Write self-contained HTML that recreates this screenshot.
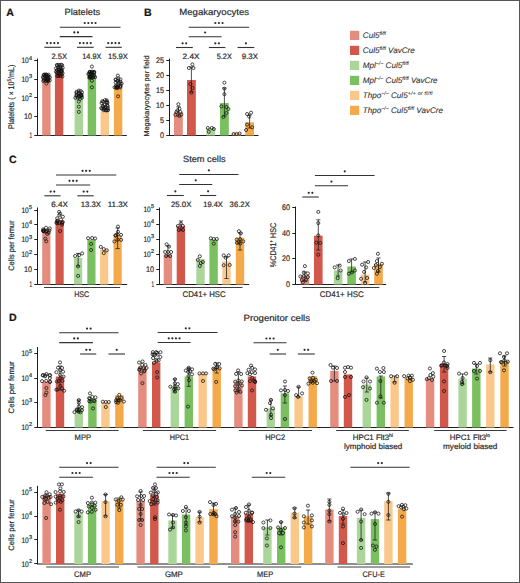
<!DOCTYPE html>
<html><head><meta charset="utf-8"><style>
html,body{margin:0;padding:0;background:#fff;}
svg{display:block;font-family:"Liberation Sans", sans-serif;}
text{stroke:#2b2b2b;stroke-width:0.2px;text-rendering:geometricPrecision;}
</style></head><body>
<svg width="520" height="583" viewBox="0 0 520 583">
<rect x="0" y="0" width="520" height="583" fill="#fff"/>
<text x="6.3" y="16.0" font-size="10.6" font-weight="bold" fill="#111">A</text>
<text x="64.5" y="15.2" font-size="9" textLength="35.7" lengthAdjust="spacingAndGlyphs" fill="#2b2b2b">Platelets</text>
<line x1="59.8" y1="27.2" x2="120.5" y2="27.2" stroke="#333" stroke-width="1.1"/>
<circle cx="84.75" cy="23.00" r="1.1" fill="#2a2a2a"/>
<circle cx="88.35" cy="23.00" r="1.1" fill="#2a2a2a"/>
<circle cx="91.95" cy="23.00" r="1.1" fill="#2a2a2a"/>
<circle cx="95.55" cy="23.00" r="1.1" fill="#2a2a2a"/>
<line x1="59.8" y1="36.6" x2="92.5" y2="36.6" stroke="#333" stroke-width="1.1"/>
<circle cx="74.35" cy="32.40" r="1.1" fill="#2a2a2a"/>
<circle cx="77.95" cy="32.40" r="1.1" fill="#2a2a2a"/>
<line x1="44.3" y1="47.3" x2="60.8" y2="47.3" stroke="#333" stroke-width="1.1"/>
<circle cx="47.15" cy="43.10" r="1.1" fill="#2a2a2a"/>
<circle cx="50.75" cy="43.10" r="1.1" fill="#2a2a2a"/>
<circle cx="54.35" cy="43.10" r="1.1" fill="#2a2a2a"/>
<circle cx="57.95" cy="43.10" r="1.1" fill="#2a2a2a"/>
<line x1="76.9" y1="47.3" x2="93.7" y2="47.3" stroke="#333" stroke-width="1.1"/>
<circle cx="79.90" cy="43.10" r="1.1" fill="#2a2a2a"/>
<circle cx="83.50" cy="43.10" r="1.1" fill="#2a2a2a"/>
<circle cx="87.10" cy="43.10" r="1.1" fill="#2a2a2a"/>
<circle cx="90.70" cy="43.10" r="1.1" fill="#2a2a2a"/>
<line x1="105.5" y1="47.3" x2="121.8" y2="47.3" stroke="#333" stroke-width="1.1"/>
<circle cx="108.25" cy="43.10" r="1.1" fill="#2a2a2a"/>
<circle cx="111.85" cy="43.10" r="1.1" fill="#2a2a2a"/>
<circle cx="115.45" cy="43.10" r="1.1" fill="#2a2a2a"/>
<circle cx="119.05" cy="43.10" r="1.1" fill="#2a2a2a"/>
<text x="51.5" y="59.2" font-size="7.8" textLength="15.6" lengthAdjust="spacingAndGlyphs" fill="#2b2b2b">2.5X</text>
<text x="82.3" y="59.2" font-size="7.8" textLength="19.1" lengthAdjust="spacingAndGlyphs" fill="#2b2b2b">14.9X</text>
<text x="107.9" y="59.2" font-size="7.8" textLength="20.1" lengthAdjust="spacingAndGlyphs" fill="#2b2b2b">15.9X</text>
<line x1="37.5" y1="58.5" x2="37.5" y2="135.4" stroke="#1e1e1e" stroke-width="1.0"/>
<line x1="34.3" y1="60.5" x2="37.5" y2="60.5" stroke="#1e1e1e" stroke-width="1.0"/>
<text x="32.10" y="59.60" font-size="5.6" text-anchor="end" fill="#2b2b2b">4</text>
<text x="28.70" y="63.30" font-size="8.0" text-anchor="end" fill="#2b2b2b" textLength="7.3" lengthAdjust="spacingAndGlyphs">10</text>
<line x1="34.3" y1="79.5" x2="37.5" y2="79.5" stroke="#1e1e1e" stroke-width="1.0"/>
<text x="32.10" y="78.20" font-size="5.6" text-anchor="end" fill="#2b2b2b">3</text>
<text x="28.70" y="81.90" font-size="8.0" text-anchor="end" fill="#2b2b2b" textLength="7.3" lengthAdjust="spacingAndGlyphs">10</text>
<line x1="34.3" y1="97.5" x2="37.5" y2="97.5" stroke="#1e1e1e" stroke-width="1.0"/>
<text x="32.10" y="96.80" font-size="5.6" text-anchor="end" fill="#2b2b2b">2</text>
<text x="28.70" y="100.50" font-size="8.0" text-anchor="end" fill="#2b2b2b" textLength="7.3" lengthAdjust="spacingAndGlyphs">10</text>
<line x1="34.3" y1="116.5" x2="37.5" y2="116.5" stroke="#1e1e1e" stroke-width="1.0"/>
<text x="32.10" y="119.30" font-size="8.1" text-anchor="end" fill="#2b2b2b" textLength="8.0" lengthAdjust="spacingAndGlyphs">10</text>
<line x1="34.3" y1="135.5" x2="37.5" y2="135.5" stroke="#1e1e1e" stroke-width="1.0"/>
<text x="32.10" y="137.90" font-size="8.1" text-anchor="end" fill="#2b2b2b" textLength="2.6" lengthAdjust="spacingAndGlyphs">1</text>
<line x1="37.0" y1="135.5" x2="126.8" y2="135.5" stroke="#1e1e1e" stroke-width="1.0"/>
<text x="0" y="0" font-size="8.2" text-anchor="middle" fill="#2b2b2b" textLength="64.4" lengthAdjust="spacingAndGlyphs" transform="translate(14.10,96.90) rotate(-90)">Platelets ( × 10<tspan font-size="5.4" dy="-3.2">5</tspan><tspan dy="3.2">/mL)</tspan></text>
<rect x="42.20" y="79.50" width="8.40" height="56.00" fill="#E48D7F"/>
<rect x="54.90" y="71.50" width="8.40" height="64.00" fill="#D2584C"/>
<rect x="74.60" y="95.00" width="8.40" height="40.50" fill="#AAD69A"/>
<rect x="87.70" y="73.80" width="8.40" height="61.70" fill="#7BC060"/>
<rect x="100.60" y="111.20" width="8.40" height="24.30" fill="#FAC88A"/>
<rect x="113.90" y="87.50" width="8.40" height="48.00" fill="#F4AA4B"/>
<circle cx="46.36" cy="74.51" r="1.55" fill="none" stroke="#111" stroke-width="0.75"/>
<circle cx="48.60" cy="74.68" r="1.55" fill="none" stroke="#111" stroke-width="0.75"/>
<circle cx="44.04" cy="74.70" r="1.55" fill="none" stroke="#111" stroke-width="0.75"/>
<circle cx="44.62" cy="74.70" r="1.55" fill="none" stroke="#111" stroke-width="0.75"/>
<circle cx="46.03" cy="74.71" r="1.55" fill="none" stroke="#111" stroke-width="0.75"/>
<circle cx="43.73" cy="75.16" r="1.55" fill="none" stroke="#111" stroke-width="0.75"/>
<circle cx="46.82" cy="75.44" r="1.55" fill="none" stroke="#111" stroke-width="0.75"/>
<circle cx="44.81" cy="76.02" r="1.55" fill="none" stroke="#111" stroke-width="0.75"/>
<circle cx="48.33" cy="76.05" r="1.55" fill="none" stroke="#111" stroke-width="0.75"/>
<circle cx="45.53" cy="76.10" r="1.55" fill="none" stroke="#111" stroke-width="0.75"/>
<circle cx="47.93" cy="76.29" r="1.55" fill="none" stroke="#111" stroke-width="0.75"/>
<circle cx="43.05" cy="77.17" r="1.55" fill="none" stroke="#111" stroke-width="0.75"/>
<circle cx="49.90" cy="77.45" r="1.55" fill="none" stroke="#111" stroke-width="0.75"/>
<circle cx="47.30" cy="77.53" r="1.55" fill="none" stroke="#111" stroke-width="0.75"/>
<circle cx="47.15" cy="77.62" r="1.55" fill="none" stroke="#111" stroke-width="0.75"/>
<circle cx="48.48" cy="77.65" r="1.55" fill="none" stroke="#111" stroke-width="0.75"/>
<circle cx="45.35" cy="77.97" r="1.55" fill="none" stroke="#111" stroke-width="0.75"/>
<circle cx="43.45" cy="78.29" r="1.55" fill="none" stroke="#111" stroke-width="0.75"/>
<circle cx="48.13" cy="79.06" r="1.55" fill="none" stroke="#111" stroke-width="0.75"/>
<circle cx="46.20" cy="79.55" r="1.55" fill="none" stroke="#111" stroke-width="0.75"/>
<circle cx="46.81" cy="79.84" r="1.55" fill="none" stroke="#111" stroke-width="0.75"/>
<circle cx="47.37" cy="79.85" r="1.55" fill="none" stroke="#111" stroke-width="0.75"/>
<circle cx="44.16" cy="80.02" r="1.55" fill="none" stroke="#111" stroke-width="0.75"/>
<circle cx="49.71" cy="80.35" r="1.55" fill="none" stroke="#111" stroke-width="0.75"/>
<circle cx="48.08" cy="80.43" r="1.55" fill="none" stroke="#111" stroke-width="0.75"/>
<circle cx="45.75" cy="80.81" r="1.55" fill="none" stroke="#111" stroke-width="0.75"/>
<circle cx="43.30" cy="81.07" r="1.55" fill="none" stroke="#111" stroke-width="0.75"/>
<circle cx="47.91" cy="81.12" r="1.55" fill="none" stroke="#111" stroke-width="0.75"/>
<circle cx="46.40" cy="83.50" r="1.55" fill="none" stroke="#111" stroke-width="0.75"/>
<circle cx="59.00" cy="64.79" r="1.55" fill="none" stroke="#111" stroke-width="0.75"/>
<circle cx="61.08" cy="64.83" r="1.55" fill="none" stroke="#111" stroke-width="0.75"/>
<circle cx="56.91" cy="64.93" r="1.55" fill="none" stroke="#111" stroke-width="0.75"/>
<circle cx="62.20" cy="65.18" r="1.55" fill="none" stroke="#111" stroke-width="0.75"/>
<circle cx="57.43" cy="65.52" r="1.55" fill="none" stroke="#111" stroke-width="0.75"/>
<circle cx="60.38" cy="66.40" r="1.55" fill="none" stroke="#111" stroke-width="0.75"/>
<circle cx="58.14" cy="67.33" r="1.55" fill="none" stroke="#111" stroke-width="0.75"/>
<circle cx="62.64" cy="67.72" r="1.55" fill="none" stroke="#111" stroke-width="0.75"/>
<circle cx="60.36" cy="68.20" r="1.55" fill="none" stroke="#111" stroke-width="0.75"/>
<circle cx="55.97" cy="68.32" r="1.55" fill="none" stroke="#111" stroke-width="0.75"/>
<circle cx="58.51" cy="69.06" r="1.55" fill="none" stroke="#111" stroke-width="0.75"/>
<circle cx="61.67" cy="69.22" r="1.55" fill="none" stroke="#111" stroke-width="0.75"/>
<circle cx="60.75" cy="69.67" r="1.55" fill="none" stroke="#111" stroke-width="0.75"/>
<circle cx="58.89" cy="69.84" r="1.55" fill="none" stroke="#111" stroke-width="0.75"/>
<circle cx="56.89" cy="70.08" r="1.55" fill="none" stroke="#111" stroke-width="0.75"/>
<circle cx="61.65" cy="70.81" r="1.55" fill="none" stroke="#111" stroke-width="0.75"/>
<circle cx="61.00" cy="71.03" r="1.55" fill="none" stroke="#111" stroke-width="0.75"/>
<circle cx="61.64" cy="71.23" r="1.55" fill="none" stroke="#111" stroke-width="0.75"/>
<circle cx="58.91" cy="71.47" r="1.55" fill="none" stroke="#111" stroke-width="0.75"/>
<circle cx="56.05" cy="71.77" r="1.55" fill="none" stroke="#111" stroke-width="0.75"/>
<circle cx="60.43" cy="71.78" r="1.55" fill="none" stroke="#111" stroke-width="0.75"/>
<circle cx="57.33" cy="72.54" r="1.55" fill="none" stroke="#111" stroke-width="0.75"/>
<circle cx="62.52" cy="73.18" r="1.55" fill="none" stroke="#111" stroke-width="0.75"/>
<circle cx="58.90" cy="73.33" r="1.55" fill="none" stroke="#111" stroke-width="0.75"/>
<circle cx="61.54" cy="74.53" r="1.55" fill="none" stroke="#111" stroke-width="0.75"/>
<circle cx="58.96" cy="75.20" r="1.55" fill="none" stroke="#111" stroke-width="0.75"/>
<circle cx="57.15" cy="75.87" r="1.55" fill="none" stroke="#111" stroke-width="0.75"/>
<circle cx="58.23" cy="75.89" r="1.55" fill="none" stroke="#111" stroke-width="0.75"/>
<circle cx="60.34" cy="75.97" r="1.55" fill="none" stroke="#111" stroke-width="0.75"/>
<circle cx="62.41" cy="76.44" r="1.55" fill="none" stroke="#111" stroke-width="0.75"/>
<circle cx="78.90" cy="90.61" r="1.55" fill="none" stroke="#111" stroke-width="0.75"/>
<circle cx="80.74" cy="91.06" r="1.55" fill="none" stroke="#111" stroke-width="0.75"/>
<circle cx="76.75" cy="91.78" r="1.55" fill="none" stroke="#111" stroke-width="0.75"/>
<circle cx="78.85" cy="92.49" r="1.55" fill="none" stroke="#111" stroke-width="0.75"/>
<circle cx="81.98" cy="92.52" r="1.55" fill="none" stroke="#111" stroke-width="0.75"/>
<circle cx="76.39" cy="92.70" r="1.55" fill="none" stroke="#111" stroke-width="0.75"/>
<circle cx="78.78" cy="93.64" r="1.55" fill="none" stroke="#111" stroke-width="0.75"/>
<circle cx="81.23" cy="94.50" r="1.55" fill="none" stroke="#111" stroke-width="0.75"/>
<circle cx="76.73" cy="94.55" r="1.55" fill="none" stroke="#111" stroke-width="0.75"/>
<circle cx="81.10" cy="94.95" r="1.55" fill="none" stroke="#111" stroke-width="0.75"/>
<circle cx="80.45" cy="95.13" r="1.55" fill="none" stroke="#111" stroke-width="0.75"/>
<circle cx="81.47" cy="95.63" r="1.55" fill="none" stroke="#111" stroke-width="0.75"/>
<circle cx="76.33" cy="95.82" r="1.55" fill="none" stroke="#111" stroke-width="0.75"/>
<circle cx="78.63" cy="95.90" r="1.55" fill="none" stroke="#111" stroke-width="0.75"/>
<circle cx="81.37" cy="95.93" r="1.55" fill="none" stroke="#111" stroke-width="0.75"/>
<circle cx="79.39" cy="96.80" r="1.55" fill="none" stroke="#111" stroke-width="0.75"/>
<circle cx="77.70" cy="97.61" r="1.55" fill="none" stroke="#111" stroke-width="0.75"/>
<circle cx="82.03" cy="97.62" r="1.55" fill="none" stroke="#111" stroke-width="0.75"/>
<circle cx="75.41" cy="97.88" r="1.55" fill="none" stroke="#111" stroke-width="0.75"/>
<circle cx="79.95" cy="98.96" r="1.55" fill="none" stroke="#111" stroke-width="0.75"/>
<circle cx="78.80" cy="101.50" r="1.55" fill="none" stroke="#111" stroke-width="0.75"/>
<circle cx="78.80" cy="106.70" r="1.55" fill="none" stroke="#111" stroke-width="0.75"/>
<circle cx="78.80" cy="111.90" r="1.55" fill="none" stroke="#111" stroke-width="0.75"/>
<circle cx="91.90" cy="66.60" r="1.55" fill="none" stroke="#111" stroke-width="0.75"/>
<circle cx="91.96" cy="71.67" r="1.55" fill="none" stroke="#111" stroke-width="0.75"/>
<circle cx="94.20" cy="71.81" r="1.55" fill="none" stroke="#111" stroke-width="0.75"/>
<circle cx="89.70" cy="71.92" r="1.55" fill="none" stroke="#111" stroke-width="0.75"/>
<circle cx="89.95" cy="71.94" r="1.55" fill="none" stroke="#111" stroke-width="0.75"/>
<circle cx="89.70" cy="72.28" r="1.55" fill="none" stroke="#111" stroke-width="0.75"/>
<circle cx="94.12" cy="72.41" r="1.55" fill="none" stroke="#111" stroke-width="0.75"/>
<circle cx="90.95" cy="72.55" r="1.55" fill="none" stroke="#111" stroke-width="0.75"/>
<circle cx="92.56" cy="72.70" r="1.55" fill="none" stroke="#111" stroke-width="0.75"/>
<circle cx="93.99" cy="72.75" r="1.55" fill="none" stroke="#111" stroke-width="0.75"/>
<circle cx="91.44" cy="72.85" r="1.55" fill="none" stroke="#111" stroke-width="0.75"/>
<circle cx="91.28" cy="73.14" r="1.55" fill="none" stroke="#111" stroke-width="0.75"/>
<circle cx="90.92" cy="73.37" r="1.55" fill="none" stroke="#111" stroke-width="0.75"/>
<circle cx="88.33" cy="73.97" r="1.55" fill="none" stroke="#111" stroke-width="0.75"/>
<circle cx="89.25" cy="74.01" r="1.55" fill="none" stroke="#111" stroke-width="0.75"/>
<circle cx="91.77" cy="74.96" r="1.55" fill="none" stroke="#111" stroke-width="0.75"/>
<circle cx="94.12" cy="75.59" r="1.55" fill="none" stroke="#111" stroke-width="0.75"/>
<circle cx="89.68" cy="76.32" r="1.55" fill="none" stroke="#111" stroke-width="0.75"/>
<circle cx="91.26" cy="76.56" r="1.55" fill="none" stroke="#111" stroke-width="0.75"/>
<circle cx="90.02" cy="76.80" r="1.55" fill="none" stroke="#111" stroke-width="0.75"/>
<circle cx="90.20" cy="76.80" r="1.55" fill="none" stroke="#111" stroke-width="0.75"/>
<circle cx="90.47" cy="76.85" r="1.55" fill="none" stroke="#111" stroke-width="0.75"/>
<circle cx="93.15" cy="77.00" r="1.55" fill="none" stroke="#111" stroke-width="0.75"/>
<circle cx="95.09" cy="77.18" r="1.55" fill="none" stroke="#111" stroke-width="0.75"/>
<circle cx="92.49" cy="77.36" r="1.55" fill="none" stroke="#111" stroke-width="0.75"/>
<circle cx="89.24" cy="77.63" r="1.55" fill="none" stroke="#111" stroke-width="0.75"/>
<circle cx="90.43" cy="77.69" r="1.55" fill="none" stroke="#111" stroke-width="0.75"/>
<circle cx="91.90" cy="80.80" r="1.55" fill="none" stroke="#111" stroke-width="0.75"/>
<circle cx="91.90" cy="87.30" r="1.55" fill="none" stroke="#111" stroke-width="0.75"/>
<circle cx="104.87" cy="100.14" r="1.55" fill="none" stroke="#111" stroke-width="0.75"/>
<circle cx="106.78" cy="100.32" r="1.55" fill="none" stroke="#111" stroke-width="0.75"/>
<circle cx="102.30" cy="101.25" r="1.55" fill="none" stroke="#111" stroke-width="0.75"/>
<circle cx="106.71" cy="101.53" r="1.55" fill="none" stroke="#111" stroke-width="0.75"/>
<circle cx="103.50" cy="101.76" r="1.55" fill="none" stroke="#111" stroke-width="0.75"/>
<circle cx="106.76" cy="102.38" r="1.55" fill="none" stroke="#111" stroke-width="0.75"/>
<circle cx="107.41" cy="102.71" r="1.55" fill="none" stroke="#111" stroke-width="0.75"/>
<circle cx="101.61" cy="103.07" r="1.55" fill="none" stroke="#111" stroke-width="0.75"/>
<circle cx="104.62" cy="105.12" r="1.55" fill="none" stroke="#111" stroke-width="0.75"/>
<circle cx="107.26" cy="105.16" r="1.55" fill="none" stroke="#111" stroke-width="0.75"/>
<circle cx="102.71" cy="105.98" r="1.55" fill="none" stroke="#111" stroke-width="0.75"/>
<circle cx="107.65" cy="106.31" r="1.55" fill="none" stroke="#111" stroke-width="0.75"/>
<circle cx="103.59" cy="106.85" r="1.55" fill="none" stroke="#111" stroke-width="0.75"/>
<circle cx="105.70" cy="107.14" r="1.55" fill="none" stroke="#111" stroke-width="0.75"/>
<circle cx="101.29" cy="108.14" r="1.55" fill="none" stroke="#111" stroke-width="0.75"/>
<circle cx="107.84" cy="108.16" r="1.55" fill="none" stroke="#111" stroke-width="0.75"/>
<circle cx="103.75" cy="108.42" r="1.55" fill="none" stroke="#111" stroke-width="0.75"/>
<circle cx="102.13" cy="108.75" r="1.55" fill="none" stroke="#111" stroke-width="0.75"/>
<circle cx="103.78" cy="108.77" r="1.55" fill="none" stroke="#111" stroke-width="0.75"/>
<circle cx="106.09" cy="109.91" r="1.55" fill="none" stroke="#111" stroke-width="0.75"/>
<circle cx="108.09" cy="110.08" r="1.55" fill="none" stroke="#111" stroke-width="0.75"/>
<circle cx="103.76" cy="110.15" r="1.55" fill="none" stroke="#111" stroke-width="0.75"/>
<circle cx="105.68" cy="110.37" r="1.55" fill="none" stroke="#111" stroke-width="0.75"/>
<circle cx="107.17" cy="110.38" r="1.55" fill="none" stroke="#111" stroke-width="0.75"/>
<circle cx="117.86" cy="75.61" r="1.55" fill="none" stroke="#111" stroke-width="0.75"/>
<circle cx="118.28" cy="78.44" r="1.55" fill="none" stroke="#111" stroke-width="0.75"/>
<circle cx="120.48" cy="79.45" r="1.55" fill="none" stroke="#111" stroke-width="0.75"/>
<circle cx="115.87" cy="79.50" r="1.55" fill="none" stroke="#111" stroke-width="0.75"/>
<circle cx="115.64" cy="79.61" r="1.55" fill="none" stroke="#111" stroke-width="0.75"/>
<circle cx="118.18" cy="80.53" r="1.55" fill="none" stroke="#111" stroke-width="0.75"/>
<circle cx="117.20" cy="81.09" r="1.55" fill="none" stroke="#111" stroke-width="0.75"/>
<circle cx="120.35" cy="81.69" r="1.55" fill="none" stroke="#111" stroke-width="0.75"/>
<circle cx="115.72" cy="82.51" r="1.55" fill="none" stroke="#111" stroke-width="0.75"/>
<circle cx="118.89" cy="82.73" r="1.55" fill="none" stroke="#111" stroke-width="0.75"/>
<circle cx="121.66" cy="83.51" r="1.55" fill="none" stroke="#111" stroke-width="0.75"/>
<circle cx="120.40" cy="83.74" r="1.55" fill="none" stroke="#111" stroke-width="0.75"/>
<circle cx="118.19" cy="85.34" r="1.55" fill="none" stroke="#111" stroke-width="0.75"/>
<circle cx="116.02" cy="85.63" r="1.55" fill="none" stroke="#111" stroke-width="0.75"/>
<circle cx="120.48" cy="85.68" r="1.55" fill="none" stroke="#111" stroke-width="0.75"/>
<circle cx="120.48" cy="86.33" r="1.55" fill="none" stroke="#111" stroke-width="0.75"/>
<circle cx="117.38" cy="86.77" r="1.55" fill="none" stroke="#111" stroke-width="0.75"/>
<circle cx="117.06" cy="86.92" r="1.55" fill="none" stroke="#111" stroke-width="0.75"/>
<circle cx="114.55" cy="87.26" r="1.55" fill="none" stroke="#111" stroke-width="0.75"/>
<circle cx="120.24" cy="87.39" r="1.55" fill="none" stroke="#111" stroke-width="0.75"/>
<circle cx="116.05" cy="87.41" r="1.55" fill="none" stroke="#111" stroke-width="0.75"/>
<circle cx="116.87" cy="87.44" r="1.55" fill="none" stroke="#111" stroke-width="0.75"/>
<circle cx="117.79" cy="87.68" r="1.55" fill="none" stroke="#111" stroke-width="0.75"/>
<circle cx="116.69" cy="88.01" r="1.55" fill="none" stroke="#111" stroke-width="0.75"/>
<circle cx="118.10" cy="96.30" r="1.55" fill="none" stroke="#111" stroke-width="0.75"/>
<text x="144.0" y="15.6" font-size="10.6" font-weight="bold" fill="#111">B</text>
<text x="179.3" y="15.2" font-size="9" textLength="69.7" lengthAdjust="spacingAndGlyphs" fill="#2b2b2b">Megakaryocytes</text>
<line x1="188.7" y1="27.2" x2="249.2" y2="27.2" stroke="#333" stroke-width="1.1"/>
<circle cx="215.35" cy="23.00" r="1.1" fill="#2a2a2a"/>
<circle cx="218.95" cy="23.00" r="1.1" fill="#2a2a2a"/>
<circle cx="222.55" cy="23.00" r="1.1" fill="#2a2a2a"/>
<line x1="188.7" y1="36.7" x2="221.6" y2="36.7" stroke="#333" stroke-width="1.1"/>
<circle cx="205.15" cy="32.50" r="1.1" fill="#2a2a2a"/>
<line x1="176.0" y1="47.5" x2="192.8" y2="47.5" stroke="#333" stroke-width="1.1"/>
<circle cx="182.60" cy="43.30" r="1.1" fill="#2a2a2a"/>
<circle cx="186.20" cy="43.30" r="1.1" fill="#2a2a2a"/>
<line x1="208.9" y1="47.5" x2="225.4" y2="47.5" stroke="#333" stroke-width="1.1"/>
<circle cx="215.35" cy="43.30" r="1.1" fill="#2a2a2a"/>
<circle cx="218.95" cy="43.30" r="1.1" fill="#2a2a2a"/>
<line x1="237.5" y1="47.5" x2="254.3" y2="47.5" stroke="#333" stroke-width="1.1"/>
<circle cx="245.90" cy="43.30" r="1.1" fill="#2a2a2a"/>
<text x="182.5" y="59.2" font-size="7.8" textLength="17.0" lengthAdjust="spacingAndGlyphs" fill="#2b2b2b">2.4X</text>
<text x="216.7" y="59.2" font-size="7.8" textLength="15.1" lengthAdjust="spacingAndGlyphs" fill="#2b2b2b">5.2X</text>
<text x="241.7" y="59.2" font-size="7.8" textLength="16.2" lengthAdjust="spacingAndGlyphs" fill="#2b2b2b">9.3X</text>
<line x1="169.5" y1="58.5" x2="169.5" y2="135.5" stroke="#1e1e1e" stroke-width="1.0"/>
<line x1="166.3" y1="60.5" x2="169.5" y2="60.5" stroke="#1e1e1e" stroke-width="1.0"/>
<text x="164.10" y="63.20" font-size="8.1" text-anchor="end" fill="#2b2b2b" textLength="8.0" lengthAdjust="spacingAndGlyphs">25</text>
<line x1="166.3" y1="75.5" x2="169.5" y2="75.5" stroke="#1e1e1e" stroke-width="1.0"/>
<text x="164.10" y="78.20" font-size="8.1" text-anchor="end" fill="#2b2b2b" textLength="8.0" lengthAdjust="spacingAndGlyphs">20</text>
<line x1="166.3" y1="90.5" x2="169.5" y2="90.5" stroke="#1e1e1e" stroke-width="1.0"/>
<text x="164.10" y="93.20" font-size="8.1" text-anchor="end" fill="#2b2b2b" textLength="8.0" lengthAdjust="spacingAndGlyphs">15</text>
<line x1="166.3" y1="105.5" x2="169.5" y2="105.5" stroke="#1e1e1e" stroke-width="1.0"/>
<text x="164.10" y="108.20" font-size="8.1" text-anchor="end" fill="#2b2b2b" textLength="8.0" lengthAdjust="spacingAndGlyphs">10</text>
<line x1="166.3" y1="120.5" x2="169.5" y2="120.5" stroke="#1e1e1e" stroke-width="1.0"/>
<text x="164.10" y="123.20" font-size="8.1" text-anchor="end" fill="#2b2b2b" textLength="4.0" lengthAdjust="spacingAndGlyphs">5</text>
<line x1="166.3" y1="135.5" x2="169.5" y2="135.5" stroke="#1e1e1e" stroke-width="1.0"/>
<text x="164.10" y="138.20" font-size="8.1" text-anchor="end" fill="#2b2b2b" textLength="4.0" lengthAdjust="spacingAndGlyphs">0</text>
<line x1="169.0" y1="135.5" x2="258.5" y2="135.5" stroke="#1e1e1e" stroke-width="1.0"/>
<text x="0" y="0" font-size="7.2" text-anchor="middle" fill="#2b2b2b" textLength="81" lengthAdjust="spacingAndGlyphs" transform="translate(148.60,96.00) rotate(-90)">Megakaryocytes per field</text>
<rect x="174.00" y="112.20" width="8.80" height="23.30" fill="#E48D7F"/>
<rect x="187.00" y="80.00" width="8.80" height="55.50" fill="#D2584C"/>
<rect x="206.40" y="128.00" width="8.80" height="7.50" fill="#AAD69A"/>
<rect x="220.00" y="103.00" width="8.80" height="32.50" fill="#7BC060"/>
<rect x="232.20" y="133.00" width="8.80" height="2.50" fill="#FAC88A"/>
<rect x="245.20" y="122.30" width="8.80" height="13.20" fill="#F4AA4B"/>
<line x1="178.4" y1="106.8" x2="178.4" y2="116" stroke="#222" stroke-width="0.8"/>
<line x1="176.3" y1="106.8" x2="180.5" y2="106.8" stroke="#222" stroke-width="0.8"/>
<line x1="176.3" y1="116" x2="180.5" y2="116" stroke="#222" stroke-width="0.8"/>
<circle cx="178.40" cy="104.20" r="1.55" fill="none" stroke="#111" stroke-width="0.75"/>
<circle cx="179.40" cy="108.70" r="1.55" fill="none" stroke="#111" stroke-width="0.75"/>
<circle cx="177.40" cy="110.40" r="1.55" fill="none" stroke="#111" stroke-width="0.75"/>
<circle cx="175.40" cy="114.80" r="1.55" fill="none" stroke="#111" stroke-width="0.75"/>
<circle cx="181.40" cy="114.50" r="1.55" fill="none" stroke="#111" stroke-width="0.75"/>
<circle cx="179.40" cy="116.00" r="1.55" fill="none" stroke="#111" stroke-width="0.75"/>
<circle cx="176.40" cy="112.00" r="1.55" fill="none" stroke="#111" stroke-width="0.75"/>
<circle cx="180.40" cy="112.00" r="1.55" fill="none" stroke="#111" stroke-width="0.75"/>
<line x1="191.4" y1="67" x2="191.4" y2="92" stroke="#222" stroke-width="0.8"/>
<line x1="189.3" y1="67" x2="193.5" y2="67" stroke="#222" stroke-width="0.8"/>
<line x1="189.3" y1="92" x2="193.5" y2="92" stroke="#222" stroke-width="0.8"/>
<circle cx="188.90" cy="68.00" r="1.55" fill="none" stroke="#111" stroke-width="0.75"/>
<circle cx="192.40" cy="64.40" r="1.55" fill="none" stroke="#111" stroke-width="0.75"/>
<circle cx="193.40" cy="68.00" r="1.55" fill="none" stroke="#111" stroke-width="0.75"/>
<circle cx="190.40" cy="84.00" r="1.55" fill="none" stroke="#111" stroke-width="0.75"/>
<circle cx="192.40" cy="88.00" r="1.55" fill="none" stroke="#111" stroke-width="0.75"/>
<circle cx="191.40" cy="92.50" r="1.55" fill="none" stroke="#111" stroke-width="0.75"/>
<circle cx="207.80" cy="128.00" r="1.55" fill="none" stroke="#111" stroke-width="0.75"/>
<circle cx="211.80" cy="128.00" r="1.55" fill="none" stroke="#111" stroke-width="0.75"/>
<circle cx="213.80" cy="129.00" r="1.55" fill="none" stroke="#111" stroke-width="0.75"/>
<circle cx="208.80" cy="131.70" r="1.55" fill="none" stroke="#111" stroke-width="0.75"/>
<line x1="224.4" y1="88" x2="224.4" y2="116" stroke="#222" stroke-width="0.8"/>
<line x1="222.3" y1="88" x2="226.5" y2="88" stroke="#222" stroke-width="0.8"/>
<line x1="222.3" y1="116" x2="226.5" y2="116" stroke="#222" stroke-width="0.8"/>
<circle cx="224.40" cy="82.70" r="1.55" fill="none" stroke="#111" stroke-width="0.75"/>
<circle cx="224.40" cy="88.70" r="1.55" fill="none" stroke="#111" stroke-width="0.75"/>
<circle cx="224.40" cy="94.20" r="1.55" fill="none" stroke="#111" stroke-width="0.75"/>
<circle cx="221.40" cy="106.40" r="1.55" fill="none" stroke="#111" stroke-width="0.75"/>
<circle cx="226.40" cy="107.00" r="1.55" fill="none" stroke="#111" stroke-width="0.75"/>
<circle cx="228.40" cy="109.00" r="1.55" fill="none" stroke="#111" stroke-width="0.75"/>
<circle cx="226.40" cy="113.00" r="1.55" fill="none" stroke="#111" stroke-width="0.75"/>
<circle cx="223.40" cy="117.00" r="1.55" fill="none" stroke="#111" stroke-width="0.75"/>
<circle cx="233.60" cy="134.00" r="1.55" fill="none" stroke="#111" stroke-width="0.75"/>
<circle cx="236.60" cy="134.00" r="1.55" fill="none" stroke="#111" stroke-width="0.75"/>
<circle cx="239.60" cy="133.50" r="1.55" fill="none" stroke="#111" stroke-width="0.75"/>
<line x1="249.6" y1="115" x2="249.6" y2="128" stroke="#222" stroke-width="0.8"/>
<line x1="247.5" y1="115" x2="251.7" y2="115" stroke="#222" stroke-width="0.8"/>
<line x1="247.5" y1="128" x2="251.7" y2="128" stroke="#222" stroke-width="0.8"/>
<circle cx="247.10" cy="114.00" r="1.55" fill="none" stroke="#111" stroke-width="0.75"/>
<circle cx="251.10" cy="112.70" r="1.55" fill="none" stroke="#111" stroke-width="0.75"/>
<circle cx="249.10" cy="116.60" r="1.55" fill="none" stroke="#111" stroke-width="0.75"/>
<circle cx="247.10" cy="124.60" r="1.55" fill="none" stroke="#111" stroke-width="0.75"/>
<circle cx="252.10" cy="127.30" r="1.55" fill="none" stroke="#111" stroke-width="0.75"/>
<circle cx="246.10" cy="130.00" r="1.55" fill="none" stroke="#111" stroke-width="0.75"/>
<rect x="350.00" y="30.80" width="9.20" height="9.20" fill="#E48D7F"/>
<text x="362.8" y="38.4" font-size="8.1" font-style="italic" fill="#333" style="stroke-width:0.1px">Cul5<tspan font-size="5.0" dy="-3.3">fl/fl</tspan><tspan dy="3.3"></tspan></text>
<rect x="350.00" y="45.80" width="9.20" height="9.20" fill="#D2584C"/>
<text x="362.8" y="53.4" font-size="8.1" font-style="italic" fill="#333" style="stroke-width:0.1px">Cul5<tspan font-size="5.0" dy="-3.3">fl/fl</tspan><tspan dy="3.3"> VavCre</tspan></text>
<rect x="350.00" y="60.80" width="9.20" height="9.20" fill="#AAD69A"/>
<text x="362.8" y="68.4" font-size="8.1" font-style="italic" fill="#333" style="stroke-width:0.1px">Mpl<tspan font-size="5.2" dy="-3">−/−</tspan><tspan dy="3"> Cul5</tspan><tspan font-size="5.0" dy="-3.3">fl/fl</tspan><tspan dy="3.3"></tspan></text>
<rect x="350.00" y="75.80" width="9.20" height="9.20" fill="#7BC060"/>
<text x="362.8" y="83.4" font-size="8.1" font-style="italic" fill="#333" style="stroke-width:0.1px">Mpl<tspan font-size="5.2" dy="-3">−/−</tspan><tspan dy="3"> Cul5</tspan><tspan font-size="5.0" dy="-3.3">fl/fl</tspan><tspan dy="3.3"> VavCre</tspan></text>
<rect x="350.00" y="90.80" width="9.20" height="9.20" fill="#FAC88A"/>
<text x="362.8" y="98.4" font-size="8.1" font-style="italic" fill="#333" style="stroke-width:0.1px">Thpo<tspan font-size="5.2" dy="-3">−/−</tspan><tspan dy="3"> Cul5</tspan><tspan font-size="5.0" dy="-3.3" letter-spacing="0.35">+/+ or fl/fl</tspan><tspan dy="3.3"></tspan></text>
<rect x="350.00" y="105.80" width="9.20" height="9.20" fill="#F4AA4B"/>
<text x="362.8" y="113.4" font-size="8.1" font-style="italic" fill="#333" style="stroke-width:0.1px">Thpo<tspan font-size="5.2" dy="-3">−/−</tspan><tspan dy="3"> Cul5</tspan><tspan font-size="5.0" dy="-3.3">fl/fl</tspan><tspan dy="3.3"> VavCre</tspan></text>
<text x="9.0" y="163.3" font-size="10.6" font-weight="bold" fill="#111">C</text>
<text x="183.0" y="162.1" font-size="9" textLength="42.6" lengthAdjust="spacingAndGlyphs" fill="#2b2b2b">Stem cells</text>
<line x1="56.0" y1="175.0" x2="116.3" y2="175.0" stroke="#333" stroke-width="1.1"/>
<circle cx="82.55" cy="170.80" r="1.1" fill="#2a2a2a"/>
<circle cx="86.15" cy="170.80" r="1.1" fill="#2a2a2a"/>
<circle cx="89.75" cy="170.80" r="1.1" fill="#2a2a2a"/>
<line x1="56.0" y1="185.0" x2="90.2" y2="185.0" stroke="#333" stroke-width="1.1"/>
<circle cx="69.50" cy="180.80" r="1.1" fill="#2a2a2a"/>
<circle cx="73.10" cy="180.80" r="1.1" fill="#2a2a2a"/>
<circle cx="76.70" cy="180.80" r="1.1" fill="#2a2a2a"/>
<line x1="44.4" y1="195.8" x2="60.6" y2="195.8" stroke="#333" stroke-width="1.1"/>
<circle cx="50.70" cy="191.60" r="1.1" fill="#2a2a2a"/>
<circle cx="54.30" cy="191.60" r="1.1" fill="#2a2a2a"/>
<line x1="77.3" y1="195.8" x2="93.7" y2="195.8" stroke="#333" stroke-width="1.1"/>
<circle cx="83.70" cy="191.60" r="1.1" fill="#2a2a2a"/>
<circle cx="87.30" cy="191.60" r="1.1" fill="#2a2a2a"/>
<text x="51.2" y="206.9" font-size="7.8" textLength="16.7" lengthAdjust="spacingAndGlyphs" fill="#2b2b2b">6.4X</text>
<text x="80.8" y="206.9" font-size="7.8" textLength="20.2" lengthAdjust="spacingAndGlyphs" fill="#2b2b2b">13.3X</text>
<text x="107.7" y="206.9" font-size="7.8" textLength="20.2" lengthAdjust="spacingAndGlyphs" fill="#2b2b2b">11.3X</text>
<line x1="37.5" y1="207.5" x2="37.5" y2="284.8" stroke="#1e1e1e" stroke-width="1.0"/>
<line x1="34.3" y1="210.5" x2="37.5" y2="210.5" stroke="#1e1e1e" stroke-width="1.0"/>
<text x="32.10" y="209.10" font-size="5.6" text-anchor="end" fill="#2b2b2b">5</text>
<text x="28.70" y="212.80" font-size="8.0" text-anchor="end" fill="#2b2b2b" textLength="7.3" lengthAdjust="spacingAndGlyphs">10</text>
<line x1="34.3" y1="224.5" x2="37.5" y2="224.5" stroke="#1e1e1e" stroke-width="1.0"/>
<text x="32.10" y="223.92" font-size="5.6" text-anchor="end" fill="#2b2b2b">4</text>
<text x="28.70" y="227.62" font-size="8.0" text-anchor="end" fill="#2b2b2b" textLength="7.3" lengthAdjust="spacingAndGlyphs">10</text>
<line x1="34.3" y1="239.5" x2="37.5" y2="239.5" stroke="#1e1e1e" stroke-width="1.0"/>
<text x="32.10" y="238.74" font-size="5.6" text-anchor="end" fill="#2b2b2b">3</text>
<text x="28.70" y="242.44" font-size="8.0" text-anchor="end" fill="#2b2b2b" textLength="7.3" lengthAdjust="spacingAndGlyphs">10</text>
<line x1="34.3" y1="254.5" x2="37.5" y2="254.5" stroke="#1e1e1e" stroke-width="1.0"/>
<text x="32.10" y="253.56" font-size="5.6" text-anchor="end" fill="#2b2b2b">2</text>
<text x="28.70" y="257.26" font-size="8.0" text-anchor="end" fill="#2b2b2b" textLength="7.3" lengthAdjust="spacingAndGlyphs">10</text>
<line x1="34.3" y1="269.5" x2="37.5" y2="269.5" stroke="#1e1e1e" stroke-width="1.0"/>
<text x="32.10" y="272.28" font-size="8.1" text-anchor="end" fill="#2b2b2b" textLength="8.0" lengthAdjust="spacingAndGlyphs">10</text>
<line x1="34.3" y1="284.5" x2="37.5" y2="284.5" stroke="#1e1e1e" stroke-width="1.0"/>
<text x="32.10" y="287.10" font-size="8.1" text-anchor="end" fill="#2b2b2b" textLength="2.6" lengthAdjust="spacingAndGlyphs">1</text>
<line x1="37.0" y1="284.5" x2="127.2" y2="284.5" stroke="#1e1e1e" stroke-width="1.0"/>
<line x1="44.0" y1="287.5" x2="120.1" y2="287.5" stroke="#3c3c3c" stroke-width="1.0"/>
<text x="74.2" y="297.4" font-size="8.2" textLength="15" lengthAdjust="spacingAndGlyphs" fill="#2b2b2b">HSC</text>
<text x="0" y="0" font-size="7.9" text-anchor="middle" fill="#2b2b2b" textLength="50.2" lengthAdjust="spacingAndGlyphs" transform="translate(14.40,245.70) rotate(-90)">Cells per femur</text>
<rect x="42.20" y="229.60" width="8.20" height="54.90" fill="#E48D7F"/>
<rect x="55.50" y="220.20" width="8.20" height="64.30" fill="#D2584C"/>
<rect x="74.00" y="257.90" width="8.20" height="26.60" fill="#AAD69A"/>
<rect x="87.30" y="239.60" width="8.20" height="44.90" fill="#7BC060"/>
<rect x="100.10" y="249.60" width="8.20" height="34.90" fill="#FAC88A"/>
<rect x="113.50" y="235.30" width="8.20" height="49.20" fill="#F4AA4B"/>
<circle cx="46.05" cy="227.79" r="1.55" fill="none" stroke="#111" stroke-width="0.75"/>
<circle cx="49.79" cy="228.45" r="1.55" fill="none" stroke="#111" stroke-width="0.75"/>
<circle cx="43.12" cy="229.31" r="1.55" fill="none" stroke="#111" stroke-width="0.75"/>
<circle cx="43.66" cy="230.40" r="1.55" fill="none" stroke="#111" stroke-width="0.75"/>
<circle cx="49.37" cy="230.50" r="1.55" fill="none" stroke="#111" stroke-width="0.75"/>
<circle cx="46.83" cy="230.81" r="1.55" fill="none" stroke="#111" stroke-width="0.75"/>
<circle cx="43.21" cy="230.84" r="1.55" fill="none" stroke="#111" stroke-width="0.75"/>
<circle cx="43.30" cy="231.19" r="1.55" fill="none" stroke="#111" stroke-width="0.75"/>
<circle cx="44.37" cy="231.39" r="1.55" fill="none" stroke="#111" stroke-width="0.75"/>
<circle cx="46.03" cy="231.70" r="1.55" fill="none" stroke="#111" stroke-width="0.75"/>
<circle cx="48.50" cy="232.89" r="1.55" fill="none" stroke="#111" stroke-width="0.75"/>
<circle cx="47.20" cy="233.85" r="1.55" fill="none" stroke="#111" stroke-width="0.75"/>
<circle cx="45.30" cy="238.70" r="1.55" fill="none" stroke="#111" stroke-width="0.75"/>
<circle cx="46.30" cy="241.30" r="1.55" fill="none" stroke="#111" stroke-width="0.75"/>
<circle cx="59.10" cy="211.90" r="1.55" fill="none" stroke="#111" stroke-width="0.75"/>
<circle cx="60.10" cy="213.70" r="1.55" fill="none" stroke="#111" stroke-width="0.75"/>
<circle cx="59.39" cy="215.13" r="1.55" fill="none" stroke="#111" stroke-width="0.75"/>
<circle cx="62.86" cy="216.71" r="1.55" fill="none" stroke="#111" stroke-width="0.75"/>
<circle cx="57.20" cy="218.29" r="1.55" fill="none" stroke="#111" stroke-width="0.75"/>
<circle cx="60.94" cy="219.50" r="1.55" fill="none" stroke="#111" stroke-width="0.75"/>
<circle cx="57.14" cy="220.69" r="1.55" fill="none" stroke="#111" stroke-width="0.75"/>
<circle cx="57.16" cy="221.70" r="1.55" fill="none" stroke="#111" stroke-width="0.75"/>
<circle cx="62.80" cy="222.22" r="1.55" fill="none" stroke="#111" stroke-width="0.75"/>
<circle cx="59.23" cy="222.89" r="1.55" fill="none" stroke="#111" stroke-width="0.75"/>
<circle cx="56.45" cy="222.94" r="1.55" fill="none" stroke="#111" stroke-width="0.75"/>
<circle cx="62.10" cy="223.00" r="1.55" fill="none" stroke="#111" stroke-width="0.75"/>
<circle cx="57.44" cy="223.29" r="1.55" fill="none" stroke="#111" stroke-width="0.75"/>
<circle cx="62.05" cy="224.72" r="1.55" fill="none" stroke="#111" stroke-width="0.75"/>
<circle cx="60.10" cy="231.00" r="1.55" fill="none" stroke="#111" stroke-width="0.75"/>
<line x1="78.1" y1="253.4" x2="78.1" y2="266" stroke="#222" stroke-width="0.8"/>
<line x1="76.0" y1="253.4" x2="80.19999999999999" y2="253.4" stroke="#222" stroke-width="0.8"/>
<line x1="76.0" y1="266" x2="80.19999999999999" y2="266" stroke="#222" stroke-width="0.8"/>
<circle cx="75.10" cy="256.00" r="1.55" fill="none" stroke="#111" stroke-width="0.75"/>
<circle cx="79.10" cy="255.20" r="1.55" fill="none" stroke="#111" stroke-width="0.75"/>
<circle cx="82.10" cy="253.40" r="1.55" fill="none" stroke="#111" stroke-width="0.75"/>
<circle cx="78.10" cy="266.40" r="1.55" fill="none" stroke="#111" stroke-width="0.75"/>
<circle cx="78.10" cy="275.90" r="1.55" fill="none" stroke="#111" stroke-width="0.75"/>
<circle cx="88.10" cy="238.20" r="1.55" fill="none" stroke="#111" stroke-width="0.75"/>
<circle cx="92.10" cy="238.00" r="1.55" fill="none" stroke="#111" stroke-width="0.75"/>
<circle cx="95.10" cy="238.50" r="1.55" fill="none" stroke="#111" stroke-width="0.75"/>
<circle cx="91.10" cy="243.90" r="1.55" fill="none" stroke="#111" stroke-width="0.75"/>
<circle cx="91.10" cy="250.00" r="1.55" fill="none" stroke="#111" stroke-width="0.75"/>
<circle cx="100.80" cy="246.90" r="1.55" fill="none" stroke="#111" stroke-width="0.75"/>
<circle cx="103.80" cy="249.10" r="1.55" fill="none" stroke="#111" stroke-width="0.75"/>
<circle cx="106.80" cy="250.30" r="1.55" fill="none" stroke="#111" stroke-width="0.75"/>
<circle cx="103.80" cy="253.10" r="1.55" fill="none" stroke="#111" stroke-width="0.75"/>
<line x1="117.6" y1="228" x2="117.6" y2="248.6" stroke="#222" stroke-width="0.8"/>
<line x1="115.5" y1="228" x2="119.69999999999999" y2="228" stroke="#222" stroke-width="0.8"/>
<line x1="115.5" y1="248.6" x2="119.69999999999999" y2="248.6" stroke="#222" stroke-width="0.8"/>
<circle cx="118.00" cy="226.60" r="1.55" fill="none" stroke="#111" stroke-width="0.75"/>
<circle cx="118.00" cy="231.80" r="1.55" fill="none" stroke="#111" stroke-width="0.75"/>
<circle cx="117.44" cy="234.47" r="1.55" fill="none" stroke="#111" stroke-width="0.75"/>
<circle cx="121.04" cy="234.86" r="1.55" fill="none" stroke="#111" stroke-width="0.75"/>
<circle cx="115.40" cy="235.31" r="1.55" fill="none" stroke="#111" stroke-width="0.75"/>
<circle cx="115.76" cy="235.59" r="1.55" fill="none" stroke="#111" stroke-width="0.75"/>
<circle cx="117.56" cy="239.84" r="1.55" fill="none" stroke="#111" stroke-width="0.75"/>
<circle cx="121.10" cy="239.85" r="1.55" fill="none" stroke="#111" stroke-width="0.75"/>
<circle cx="114.37" cy="241.49" r="1.55" fill="none" stroke="#111" stroke-width="0.75"/>
<line x1="159.5" y1="207.5" x2="159.5" y2="284.8" stroke="#1e1e1e" stroke-width="1.0"/>
<line x1="156.3" y1="209.5" x2="159.5" y2="209.5" stroke="#1e1e1e" stroke-width="1.0"/>
<text x="154.10" y="208.40" font-size="5.6" text-anchor="end" fill="#2b2b2b">5</text>
<text x="150.70" y="212.10" font-size="8.0" text-anchor="end" fill="#2b2b2b" textLength="7.3" lengthAdjust="spacingAndGlyphs">10</text>
<line x1="156.3" y1="224.5" x2="159.5" y2="224.5" stroke="#1e1e1e" stroke-width="1.0"/>
<text x="154.10" y="223.32" font-size="5.6" text-anchor="end" fill="#2b2b2b">4</text>
<text x="150.70" y="227.02" font-size="8.0" text-anchor="end" fill="#2b2b2b" textLength="7.3" lengthAdjust="spacingAndGlyphs">10</text>
<line x1="156.3" y1="239.5" x2="159.5" y2="239.5" stroke="#1e1e1e" stroke-width="1.0"/>
<text x="154.10" y="238.24" font-size="5.6" text-anchor="end" fill="#2b2b2b">3</text>
<text x="150.70" y="241.94" font-size="8.0" text-anchor="end" fill="#2b2b2b" textLength="7.3" lengthAdjust="spacingAndGlyphs">10</text>
<line x1="156.3" y1="254.5" x2="159.5" y2="254.5" stroke="#1e1e1e" stroke-width="1.0"/>
<text x="154.10" y="253.16" font-size="5.6" text-anchor="end" fill="#2b2b2b">2</text>
<text x="150.70" y="256.86" font-size="8.0" text-anchor="end" fill="#2b2b2b" textLength="7.3" lengthAdjust="spacingAndGlyphs">10</text>
<line x1="156.3" y1="269.5" x2="159.5" y2="269.5" stroke="#1e1e1e" stroke-width="1.0"/>
<text x="154.10" y="271.98" font-size="8.1" text-anchor="end" fill="#2b2b2b" textLength="8.0" lengthAdjust="spacingAndGlyphs">10</text>
<line x1="156.3" y1="284.5" x2="159.5" y2="284.5" stroke="#1e1e1e" stroke-width="1.0"/>
<text x="154.10" y="286.90" font-size="8.1" text-anchor="end" fill="#2b2b2b" textLength="2.6" lengthAdjust="spacingAndGlyphs">1</text>
<line x1="179.2" y1="174.5" x2="238.5" y2="174.5" stroke="#333" stroke-width="1.1"/>
<circle cx="208.85" cy="170.30" r="1.1" fill="#2a2a2a"/>
<line x1="179.2" y1="184.5" x2="212.3" y2="184.5" stroke="#333" stroke-width="1.1"/>
<circle cx="195.75" cy="180.30" r="1.1" fill="#2a2a2a"/>
<line x1="166.9" y1="195.5" x2="183.8" y2="195.5" stroke="#333" stroke-width="1.1"/>
<circle cx="175.35" cy="191.30" r="1.1" fill="#2a2a2a"/>
<line x1="200.0" y1="195.5" x2="216.2" y2="195.5" stroke="#333" stroke-width="1.1"/>
<circle cx="208.10" cy="191.30" r="1.1" fill="#2a2a2a"/>
<text x="170.9" y="206.9" font-size="7.8" textLength="20.5" lengthAdjust="spacingAndGlyphs" fill="#2b2b2b">25.0X</text>
<text x="203.2" y="206.9" font-size="7.8" textLength="19.7" lengthAdjust="spacingAndGlyphs" fill="#2b2b2b">19.4X</text>
<text x="229.6" y="206.9" font-size="7.8" textLength="20.2" lengthAdjust="spacingAndGlyphs" fill="#2b2b2b">36.2X</text>
<line x1="159.0" y1="284.5" x2="249.2" y2="284.5" stroke="#1e1e1e" stroke-width="1.0"/>
<line x1="166.2" y1="287.5" x2="242.5" y2="287.5" stroke="#3c3c3c" stroke-width="1.0"/>
<text x="182.6" y="297.0" font-size="8.2" textLength="43.0" lengthAdjust="spacingAndGlyphs" fill="#2b2b2b">CD41+ HSC</text>
<rect x="163.70" y="254.60" width="8.40" height="29.90" fill="#E48D7F"/>
<rect x="176.70" y="226.20" width="8.40" height="58.30" fill="#D2584C"/>
<rect x="196.30" y="259.00" width="8.40" height="25.50" fill="#AAD69A"/>
<rect x="209.40" y="239.50" width="8.40" height="45.00" fill="#7BC060"/>
<rect x="222.30" y="261.30" width="8.40" height="23.20" fill="#FAC88A"/>
<rect x="235.80" y="237.70" width="8.40" height="46.80" fill="#F4AA4B"/>
<line x1="167.89999999999998" y1="246" x2="167.89999999999998" y2="256" stroke="#222" stroke-width="0.8"/>
<line x1="165.79999999999998" y1="246" x2="169.99999999999997" y2="246" stroke="#222" stroke-width="0.8"/>
<line x1="165.79999999999998" y1="256" x2="169.99999999999997" y2="256" stroke="#222" stroke-width="0.8"/>
<circle cx="166.60" cy="244.30" r="1.55" fill="none" stroke="#111" stroke-width="0.75"/>
<circle cx="169.10" cy="246.60" r="1.55" fill="none" stroke="#111" stroke-width="0.75"/>
<circle cx="165.10" cy="252.00" r="1.55" fill="none" stroke="#111" stroke-width="0.75"/>
<circle cx="168.10" cy="252.00" r="1.55" fill="none" stroke="#111" stroke-width="0.75"/>
<circle cx="171.10" cy="252.00" r="1.55" fill="none" stroke="#111" stroke-width="0.75"/>
<circle cx="166.10" cy="256.00" r="1.55" fill="none" stroke="#111" stroke-width="0.75"/>
<circle cx="170.10" cy="256.00" r="1.55" fill="none" stroke="#111" stroke-width="0.75"/>
<line x1="180.89999999999998" y1="221" x2="180.89999999999998" y2="230" stroke="#222" stroke-width="0.8"/>
<line x1="178.79999999999998" y1="221" x2="182.99999999999997" y2="221" stroke="#222" stroke-width="0.8"/>
<line x1="178.79999999999998" y1="230" x2="182.99999999999997" y2="230" stroke="#222" stroke-width="0.8"/>
<circle cx="180.90" cy="223.60" r="1.55" fill="none" stroke="#111" stroke-width="0.75"/>
<circle cx="177.90" cy="226.00" r="1.55" fill="none" stroke="#111" stroke-width="0.75"/>
<circle cx="182.90" cy="226.00" r="1.55" fill="none" stroke="#111" stroke-width="0.75"/>
<circle cx="178.90" cy="230.00" r="1.55" fill="none" stroke="#111" stroke-width="0.75"/>
<circle cx="182.90" cy="230.00" r="1.55" fill="none" stroke="#111" stroke-width="0.75"/>
<circle cx="199.80" cy="256.30" r="1.55" fill="none" stroke="#111" stroke-width="0.75"/>
<circle cx="197.80" cy="259.90" r="1.55" fill="none" stroke="#111" stroke-width="0.75"/>
<circle cx="202.80" cy="262.00" r="1.55" fill="none" stroke="#111" stroke-width="0.75"/>
<circle cx="199.80" cy="266.00" r="1.55" fill="none" stroke="#111" stroke-width="0.75"/>
<circle cx="200.80" cy="263.00" r="1.55" fill="none" stroke="#111" stroke-width="0.75"/>
<circle cx="210.80" cy="238.30" r="1.55" fill="none" stroke="#111" stroke-width="0.75"/>
<circle cx="213.80" cy="239.00" r="1.55" fill="none" stroke="#111" stroke-width="0.75"/>
<circle cx="216.80" cy="239.00" r="1.55" fill="none" stroke="#111" stroke-width="0.75"/>
<circle cx="213.80" cy="243.60" r="1.55" fill="none" stroke="#111" stroke-width="0.75"/>
<line x1="226.5" y1="257" x2="226.5" y2="278.5" stroke="#222" stroke-width="0.8"/>
<line x1="224.4" y1="257" x2="228.6" y2="257" stroke="#222" stroke-width="0.8"/>
<line x1="224.4" y1="278.5" x2="228.6" y2="278.5" stroke="#222" stroke-width="0.8"/>
<circle cx="223.70" cy="255.40" r="1.55" fill="none" stroke="#111" stroke-width="0.75"/>
<circle cx="228.70" cy="255.40" r="1.55" fill="none" stroke="#111" stroke-width="0.75"/>
<circle cx="225.70" cy="257.70" r="1.55" fill="none" stroke="#111" stroke-width="0.75"/>
<circle cx="223.70" cy="265.20" r="1.55" fill="none" stroke="#111" stroke-width="0.75"/>
<circle cx="229.70" cy="265.00" r="1.55" fill="none" stroke="#111" stroke-width="0.75"/>
<line x1="240.0" y1="233" x2="240.0" y2="250" stroke="#222" stroke-width="0.8"/>
<line x1="237.9" y1="233" x2="242.1" y2="233" stroke="#222" stroke-width="0.8"/>
<line x1="237.9" y1="250" x2="242.1" y2="250" stroke="#222" stroke-width="0.8"/>
<circle cx="238.90" cy="231.20" r="1.55" fill="none" stroke="#111" stroke-width="0.75"/>
<circle cx="240.90" cy="233.30" r="1.55" fill="none" stroke="#111" stroke-width="0.75"/>
<circle cx="240.18" cy="239.15" r="1.55" fill="none" stroke="#111" stroke-width="0.75"/>
<circle cx="236.71" cy="239.51" r="1.55" fill="none" stroke="#111" stroke-width="0.75"/>
<circle cx="243.30" cy="241.35" r="1.55" fill="none" stroke="#111" stroke-width="0.75"/>
<circle cx="238.74" cy="242.44" r="1.55" fill="none" stroke="#111" stroke-width="0.75"/>
<circle cx="236.94" cy="242.83" r="1.55" fill="none" stroke="#111" stroke-width="0.75"/>
<circle cx="240.25" cy="243.55" r="1.55" fill="none" stroke="#111" stroke-width="0.75"/>
<line x1="295.5" y1="206.5" x2="295.5" y2="284.8" stroke="#1e1e1e" stroke-width="1.0"/>
<line x1="292.3" y1="207.5" x2="295.5" y2="207.5" stroke="#1e1e1e" stroke-width="1.0"/>
<text x="290.10" y="210.40" font-size="8.1" text-anchor="end" fill="#2b2b2b" textLength="8.0" lengthAdjust="spacingAndGlyphs">60</text>
<line x1="292.3" y1="233.5" x2="295.5" y2="233.5" stroke="#1e1e1e" stroke-width="1.0"/>
<text x="290.10" y="235.90" font-size="8.1" text-anchor="end" fill="#2b2b2b" textLength="8.0" lengthAdjust="spacingAndGlyphs">40</text>
<line x1="292.3" y1="258.5" x2="295.5" y2="258.5" stroke="#1e1e1e" stroke-width="1.0"/>
<text x="290.10" y="261.40" font-size="8.1" text-anchor="end" fill="#2b2b2b" textLength="8.0" lengthAdjust="spacingAndGlyphs">20</text>
<line x1="292.3" y1="284.5" x2="295.5" y2="284.5" stroke="#1e1e1e" stroke-width="1.0"/>
<text x="290.10" y="286.90" font-size="8.1" text-anchor="end" fill="#2b2b2b" textLength="4.0" lengthAdjust="spacingAndGlyphs">0</text>
<line x1="314.9" y1="175.5" x2="374.6" y2="175.5" stroke="#333" stroke-width="1.1"/>
<circle cx="344.75" cy="171.30" r="1.1" fill="#2a2a2a"/>
<line x1="314.9" y1="185.8" x2="348.0" y2="185.8" stroke="#333" stroke-width="1.1"/>
<circle cx="331.45" cy="181.60" r="1.1" fill="#2a2a2a"/>
<line x1="302.3" y1="197.0" x2="318.8" y2="197.0" stroke="#333" stroke-width="1.1"/>
<circle cx="308.75" cy="192.80" r="1.1" fill="#2a2a2a"/>
<circle cx="312.35" cy="192.80" r="1.1" fill="#2a2a2a"/>
<line x1="295.0" y1="284.5" x2="386.2" y2="284.5" stroke="#1e1e1e" stroke-width="1.0"/>
<line x1="302.5" y1="287.5" x2="379.4" y2="287.5" stroke="#3c3c3c" stroke-width="1.0"/>
<text x="319.8" y="297.2" font-size="8.2" textLength="43.9" lengthAdjust="spacingAndGlyphs" fill="#2b2b2b">CD41+ HSC</text>
<text x="0" y="0" font-size="8.4" text-anchor="middle" fill="#2b2b2b" textLength="44.3" lengthAdjust="spacingAndGlyphs" transform="translate(276.20,245.00) rotate(-90)">%CD41<tspan font-size="5" dy="-3">+</tspan><tspan dy="3"> HSC</tspan></text>
<rect x="300.60" y="275.50" width="8.60" height="9.00" fill="#E48D7F"/>
<rect x="314.00" y="235.70" width="8.60" height="48.80" fill="#D2584C"/>
<rect x="333.80" y="270.50" width="8.60" height="14.00" fill="#AAD69A"/>
<rect x="347.30" y="266.50" width="8.60" height="18.00" fill="#7BC060"/>
<rect x="360.80" y="274.60" width="8.60" height="9.90" fill="#FAC88A"/>
<rect x="374.20" y="263.80" width="8.60" height="20.70" fill="#F4AA4B"/>
<line x1="304.90000000000003" y1="272" x2="304.90000000000003" y2="281" stroke="#222" stroke-width="0.8"/>
<line x1="302.8" y1="272" x2="307.00000000000006" y2="272" stroke="#222" stroke-width="0.8"/>
<line x1="302.8" y1="281" x2="307.00000000000006" y2="281" stroke="#222" stroke-width="0.8"/>
<circle cx="304.90" cy="266.10" r="1.55" fill="none" stroke="#111" stroke-width="0.75"/>
<circle cx="303.90" cy="272.50" r="1.55" fill="none" stroke="#111" stroke-width="0.75"/>
<circle cx="307.90" cy="273.40" r="1.55" fill="none" stroke="#111" stroke-width="0.75"/>
<circle cx="300.40" cy="276.40" r="1.55" fill="none" stroke="#111" stroke-width="0.75"/>
<circle cx="303.90" cy="276.00" r="1.55" fill="none" stroke="#111" stroke-width="0.75"/>
<circle cx="307.90" cy="277.00" r="1.55" fill="none" stroke="#111" stroke-width="0.75"/>
<circle cx="301.90" cy="280.00" r="1.55" fill="none" stroke="#111" stroke-width="0.75"/>
<circle cx="305.90" cy="280.00" r="1.55" fill="none" stroke="#111" stroke-width="0.75"/>
<circle cx="302.90" cy="282.50" r="1.55" fill="none" stroke="#111" stroke-width="0.75"/>
<line x1="318.3" y1="219.8" x2="318.3" y2="250" stroke="#222" stroke-width="0.8"/>
<line x1="316.2" y1="219.8" x2="320.40000000000003" y2="219.8" stroke="#222" stroke-width="0.8"/>
<line x1="316.2" y1="250" x2="320.40000000000003" y2="250" stroke="#222" stroke-width="0.8"/>
<circle cx="318.30" cy="211.90" r="1.55" fill="none" stroke="#111" stroke-width="0.75"/>
<circle cx="318.30" cy="223.10" r="1.55" fill="none" stroke="#111" stroke-width="0.75"/>
<circle cx="316.30" cy="242.60" r="1.55" fill="none" stroke="#111" stroke-width="0.75"/>
<circle cx="320.30" cy="243.00" r="1.55" fill="none" stroke="#111" stroke-width="0.75"/>
<circle cx="318.30" cy="254.70" r="1.55" fill="none" stroke="#111" stroke-width="0.75"/>
<circle cx="318.30" cy="235.40" r="1.55" fill="none" stroke="#111" stroke-width="0.75"/>
<line x1="338.1" y1="265" x2="338.1" y2="276" stroke="#222" stroke-width="0.8"/>
<line x1="336.0" y1="265" x2="340.20000000000005" y2="265" stroke="#222" stroke-width="0.8"/>
<line x1="336.0" y1="276" x2="340.20000000000005" y2="276" stroke="#222" stroke-width="0.8"/>
<circle cx="334.70" cy="267.40" r="1.55" fill="none" stroke="#111" stroke-width="0.75"/>
<circle cx="339.70" cy="265.60" r="1.55" fill="none" stroke="#111" stroke-width="0.75"/>
<circle cx="340.70" cy="270.50" r="1.55" fill="none" stroke="#111" stroke-width="0.75"/>
<circle cx="337.70" cy="278.20" r="1.55" fill="none" stroke="#111" stroke-width="0.75"/>
<line x1="351.6" y1="259" x2="351.6" y2="272" stroke="#222" stroke-width="0.8"/>
<line x1="349.5" y1="259" x2="353.70000000000005" y2="259" stroke="#222" stroke-width="0.8"/>
<line x1="349.5" y1="272" x2="353.70000000000005" y2="272" stroke="#222" stroke-width="0.8"/>
<circle cx="348.90" cy="261.10" r="1.55" fill="none" stroke="#111" stroke-width="0.75"/>
<circle cx="354.90" cy="258.90" r="1.55" fill="none" stroke="#111" stroke-width="0.75"/>
<circle cx="354.90" cy="270.50" r="1.55" fill="none" stroke="#111" stroke-width="0.75"/>
<circle cx="348.90" cy="273.70" r="1.55" fill="none" stroke="#111" stroke-width="0.75"/>
<circle cx="351.90" cy="272.30" r="1.55" fill="none" stroke="#111" stroke-width="0.75"/>
<line x1="365.1" y1="262" x2="365.1" y2="282" stroke="#222" stroke-width="0.8"/>
<line x1="363.0" y1="262" x2="367.20000000000005" y2="262" stroke="#222" stroke-width="0.8"/>
<line x1="363.0" y1="282" x2="367.20000000000005" y2="282" stroke="#222" stroke-width="0.8"/>
<circle cx="362.10" cy="264.70" r="1.55" fill="none" stroke="#111" stroke-width="0.75"/>
<circle cx="368.10" cy="262.00" r="1.55" fill="none" stroke="#111" stroke-width="0.75"/>
<circle cx="366.10" cy="267.40" r="1.55" fill="none" stroke="#111" stroke-width="0.75"/>
<circle cx="364.10" cy="271.90" r="1.55" fill="none" stroke="#111" stroke-width="0.75"/>
<circle cx="361.10" cy="278.80" r="1.55" fill="none" stroke="#111" stroke-width="0.75"/>
<circle cx="367.10" cy="278.00" r="1.55" fill="none" stroke="#111" stroke-width="0.75"/>
<circle cx="365.10" cy="283.10" r="1.55" fill="none" stroke="#111" stroke-width="0.75"/>
<line x1="378.5" y1="258" x2="378.5" y2="272" stroke="#222" stroke-width="0.8"/>
<line x1="376.4" y1="258" x2="380.6" y2="258" stroke="#222" stroke-width="0.8"/>
<line x1="376.4" y1="272" x2="380.6" y2="272" stroke="#222" stroke-width="0.8"/>
<circle cx="377.90" cy="253.80" r="1.55" fill="none" stroke="#111" stroke-width="0.75"/>
<circle cx="376.90" cy="261.10" r="1.55" fill="none" stroke="#111" stroke-width="0.75"/>
<circle cx="381.90" cy="263.80" r="1.55" fill="none" stroke="#111" stroke-width="0.75"/>
<circle cx="375.90" cy="265.00" r="1.55" fill="none" stroke="#111" stroke-width="0.75"/>
<circle cx="379.90" cy="267.00" r="1.55" fill="none" stroke="#111" stroke-width="0.75"/>
<circle cx="373.90" cy="268.00" r="1.55" fill="none" stroke="#111" stroke-width="0.75"/>
<circle cx="377.90" cy="271.00" r="1.55" fill="none" stroke="#111" stroke-width="0.75"/>
<circle cx="376.90" cy="273.70" r="1.55" fill="none" stroke="#111" stroke-width="0.75"/>
<text x="9.0" y="321.0" font-size="10.6" font-weight="bold" fill="#111">D</text>
<text x="243.5" y="320.8" font-size="9" textLength="66.5" lengthAdjust="spacingAndGlyphs" fill="#2b2b2b">Progenitor cells</text>
<line x1="59.2" y1="332.8" x2="118.5" y2="332.8" stroke="#333" stroke-width="1.1"/>
<circle cx="87.05" cy="328.60" r="1.1" fill="#2a2a2a"/>
<circle cx="90.65" cy="328.60" r="1.1" fill="#2a2a2a"/>
<line x1="59.2" y1="342.6" x2="92.9" y2="342.6" stroke="#333" stroke-width="1.1"/>
<circle cx="74.25" cy="338.40" r="1.1" fill="#2a2a2a"/>
<circle cx="77.85" cy="338.40" r="1.1" fill="#2a2a2a"/>
<line x1="80.1" y1="354.0" x2="96.2" y2="354.0" stroke="#333" stroke-width="1.1"/>
<circle cx="86.35" cy="349.80" r="1.1" fill="#2a2a2a"/>
<circle cx="89.95" cy="349.80" r="1.1" fill="#2a2a2a"/>
<line x1="108.5" y1="354.0" x2="125.0" y2="354.0" stroke="#333" stroke-width="1.1"/>
<circle cx="116.75" cy="349.80" r="1.1" fill="#2a2a2a"/>
<line x1="157.7" y1="332.5" x2="217.5" y2="332.5" stroke="#333" stroke-width="1.1"/>
<circle cx="185.80" cy="328.30" r="1.1" fill="#2a2a2a"/>
<circle cx="189.40" cy="328.30" r="1.1" fill="#2a2a2a"/>
<line x1="157.7" y1="342.5" x2="190.6" y2="342.5" stroke="#333" stroke-width="1.1"/>
<circle cx="168.75" cy="338.30" r="1.1" fill="#2a2a2a"/>
<circle cx="172.35" cy="338.30" r="1.1" fill="#2a2a2a"/>
<circle cx="175.95" cy="338.30" r="1.1" fill="#2a2a2a"/>
<circle cx="179.55" cy="338.30" r="1.1" fill="#2a2a2a"/>
<line x1="253.5" y1="342.7" x2="286.5" y2="342.7" stroke="#333" stroke-width="1.1"/>
<circle cx="266.40" cy="338.50" r="1.1" fill="#2a2a2a"/>
<circle cx="270.00" cy="338.50" r="1.1" fill="#2a2a2a"/>
<circle cx="273.60" cy="338.50" r="1.1" fill="#2a2a2a"/>
<line x1="269.6" y1="354.0" x2="286.0" y2="354.0" stroke="#333" stroke-width="1.1"/>
<circle cx="277.80" cy="349.80" r="1.1" fill="#2a2a2a"/>
<line x1="297.9" y1="354.0" x2="314.8" y2="354.0" stroke="#333" stroke-width="1.1"/>
<circle cx="304.55" cy="349.80" r="1.1" fill="#2a2a2a"/>
<circle cx="308.15" cy="349.80" r="1.1" fill="#2a2a2a"/>
<line x1="37.5" y1="347.0" x2="37.5" y2="427.6" stroke="#1e1e1e" stroke-width="1.0"/>
<line x1="34.3" y1="353.5" x2="37.5" y2="353.5" stroke="#1e1e1e" stroke-width="1.0"/>
<text x="32.10" y="352.70" font-size="5.6" text-anchor="end" fill="#2b2b2b">5</text>
<text x="28.70" y="356.40" font-size="8.0" text-anchor="end" fill="#2b2b2b" textLength="7.3" lengthAdjust="spacingAndGlyphs">10</text>
<line x1="34.3" y1="378.5" x2="37.5" y2="378.5" stroke="#1e1e1e" stroke-width="1.0"/>
<text x="32.10" y="377.20" font-size="5.6" text-anchor="end" fill="#2b2b2b">4</text>
<text x="28.70" y="380.90" font-size="8.0" text-anchor="end" fill="#2b2b2b" textLength="7.3" lengthAdjust="spacingAndGlyphs">10</text>
<line x1="34.3" y1="402.5" x2="37.5" y2="402.5" stroke="#1e1e1e" stroke-width="1.0"/>
<text x="32.10" y="401.70" font-size="5.6" text-anchor="end" fill="#2b2b2b">3</text>
<text x="28.70" y="405.40" font-size="8.0" text-anchor="end" fill="#2b2b2b" textLength="7.3" lengthAdjust="spacingAndGlyphs">10</text>
<line x1="34.3" y1="427.5" x2="37.5" y2="427.5" stroke="#1e1e1e" stroke-width="1.0"/>
<text x="32.10" y="426.20" font-size="5.6" text-anchor="end" fill="#2b2b2b">2</text>
<text x="28.70" y="429.90" font-size="8.0" text-anchor="end" fill="#2b2b2b" textLength="7.3" lengthAdjust="spacingAndGlyphs">10</text>
<line x1="37.0" y1="427.5" x2="513.5" y2="427.5" stroke="#1e1e1e" stroke-width="1.0"/>
<text x="0" y="0" font-size="7.9" text-anchor="middle" fill="#2b2b2b" textLength="52" lengthAdjust="spacingAndGlyphs" transform="translate(14.40,387.40) rotate(-90)">Cells per femur</text>
<rect x="42.20" y="381.50" width="8.40" height="46.00" fill="#E48D7F"/>
<rect x="55.80" y="376.50" width="8.40" height="51.00" fill="#D2584C"/>
<rect x="74.60" y="407.50" width="8.40" height="20.00" fill="#AAD69A"/>
<rect x="88.20" y="398.70" width="8.40" height="28.80" fill="#7BC060"/>
<rect x="101.30" y="402.20" width="8.40" height="25.30" fill="#FAC88A"/>
<rect x="115.20" y="395.10" width="8.40" height="32.40" fill="#F4AA4B"/>
<circle cx="46.42" cy="374.03" r="1.55" fill="none" stroke="#111" stroke-width="0.75"/>
<circle cx="49.67" cy="375.09" r="1.55" fill="none" stroke="#111" stroke-width="0.75"/>
<circle cx="43.05" cy="375.09" r="1.55" fill="none" stroke="#111" stroke-width="0.75"/>
<circle cx="50.13" cy="375.35" r="1.55" fill="none" stroke="#111" stroke-width="0.75"/>
<circle cx="42.83" cy="375.37" r="1.55" fill="none" stroke="#111" stroke-width="0.75"/>
<circle cx="45.44" cy="375.46" r="1.55" fill="none" stroke="#111" stroke-width="0.75"/>
<circle cx="44.96" cy="376.36" r="1.55" fill="none" stroke="#111" stroke-width="0.75"/>
<circle cx="49.87" cy="378.06" r="1.55" fill="none" stroke="#111" stroke-width="0.75"/>
<circle cx="46.23" cy="380.92" r="1.55" fill="none" stroke="#111" stroke-width="0.75"/>
<circle cx="42.05" cy="381.15" r="1.55" fill="none" stroke="#111" stroke-width="0.75"/>
<circle cx="49.73" cy="381.75" r="1.55" fill="none" stroke="#111" stroke-width="0.75"/>
<circle cx="50.23" cy="381.93" r="1.55" fill="none" stroke="#111" stroke-width="0.75"/>
<circle cx="46.40" cy="388.00" r="1.55" fill="none" stroke="#111" stroke-width="0.75"/>
<circle cx="46.40" cy="392.50" r="1.55" fill="none" stroke="#111" stroke-width="0.75"/>
<circle cx="45.40" cy="395.10" r="1.55" fill="none" stroke="#111" stroke-width="0.75"/>
<line x1="60.0" y1="366" x2="60.0" y2="390" stroke="#222" stroke-width="0.8"/>
<line x1="57.9" y1="366" x2="62.1" y2="366" stroke="#222" stroke-width="0.8"/>
<line x1="57.9" y1="390" x2="62.1" y2="390" stroke="#222" stroke-width="0.8"/>
<circle cx="60.00" cy="362.40" r="1.55" fill="none" stroke="#111" stroke-width="0.75"/>
<circle cx="58.00" cy="367.70" r="1.55" fill="none" stroke="#111" stroke-width="0.75"/>
<circle cx="62.00" cy="368.00" r="1.55" fill="none" stroke="#111" stroke-width="0.75"/>
<circle cx="60.15" cy="370.02" r="1.55" fill="none" stroke="#111" stroke-width="0.75"/>
<circle cx="63.08" cy="371.70" r="1.55" fill="none" stroke="#111" stroke-width="0.75"/>
<circle cx="56.41" cy="372.21" r="1.55" fill="none" stroke="#111" stroke-width="0.75"/>
<circle cx="60.14" cy="374.70" r="1.55" fill="none" stroke="#111" stroke-width="0.75"/>
<circle cx="63.51" cy="376.67" r="1.55" fill="none" stroke="#111" stroke-width="0.75"/>
<circle cx="60.20" cy="378.16" r="1.55" fill="none" stroke="#111" stroke-width="0.75"/>
<circle cx="62.47" cy="380.92" r="1.55" fill="none" stroke="#111" stroke-width="0.75"/>
<circle cx="58.72" cy="381.20" r="1.55" fill="none" stroke="#111" stroke-width="0.75"/>
<circle cx="56.84" cy="381.50" r="1.55" fill="none" stroke="#111" stroke-width="0.75"/>
<circle cx="60.29" cy="385.85" r="1.55" fill="none" stroke="#111" stroke-width="0.75"/>
<circle cx="61.97" cy="388.55" r="1.55" fill="none" stroke="#111" stroke-width="0.75"/>
<circle cx="57.60" cy="389.40" r="1.55" fill="none" stroke="#111" stroke-width="0.75"/>
<circle cx="56.37" cy="389.80" r="1.55" fill="none" stroke="#111" stroke-width="0.75"/>
<circle cx="64.12" cy="390.78" r="1.55" fill="none" stroke="#111" stroke-width="0.75"/>
<line x1="78.8" y1="400" x2="78.8" y2="412" stroke="#222" stroke-width="0.8"/>
<line x1="76.7" y1="400" x2="80.89999999999999" y2="400" stroke="#222" stroke-width="0.8"/>
<line x1="76.7" y1="412" x2="80.89999999999999" y2="412" stroke="#222" stroke-width="0.8"/>
<circle cx="78.80" cy="400.10" r="1.55" fill="none" stroke="#111" stroke-width="0.75"/>
<circle cx="78.80" cy="402.70" r="1.55" fill="none" stroke="#111" stroke-width="0.75"/>
<circle cx="78.87" cy="406.49" r="1.55" fill="none" stroke="#111" stroke-width="0.75"/>
<circle cx="82.10" cy="407.22" r="1.55" fill="none" stroke="#111" stroke-width="0.75"/>
<circle cx="76.88" cy="409.56" r="1.55" fill="none" stroke="#111" stroke-width="0.75"/>
<circle cx="78.97" cy="410.06" r="1.55" fill="none" stroke="#111" stroke-width="0.75"/>
<circle cx="81.99" cy="410.21" r="1.55" fill="none" stroke="#111" stroke-width="0.75"/>
<circle cx="77.29" cy="410.21" r="1.55" fill="none" stroke="#111" stroke-width="0.75"/>
<circle cx="78.50" cy="411.54" r="1.55" fill="none" stroke="#111" stroke-width="0.75"/>
<circle cx="74.46" cy="412.13" r="1.55" fill="none" stroke="#111" stroke-width="0.75"/>
<circle cx="80.41" cy="412.27" r="1.55" fill="none" stroke="#111" stroke-width="0.75"/>
<circle cx="90.00" cy="393.40" r="1.55" fill="none" stroke="#111" stroke-width="0.75"/>
<circle cx="92.28" cy="396.92" r="1.55" fill="none" stroke="#111" stroke-width="0.75"/>
<circle cx="95.46" cy="397.39" r="1.55" fill="none" stroke="#111" stroke-width="0.75"/>
<circle cx="89.11" cy="398.23" r="1.55" fill="none" stroke="#111" stroke-width="0.75"/>
<circle cx="89.85" cy="398.69" r="1.55" fill="none" stroke="#111" stroke-width="0.75"/>
<circle cx="93.57" cy="400.75" r="1.55" fill="none" stroke="#111" stroke-width="0.75"/>
<circle cx="94.49" cy="401.06" r="1.55" fill="none" stroke="#111" stroke-width="0.75"/>
<circle cx="89.24" cy="401.19" r="1.55" fill="none" stroke="#111" stroke-width="0.75"/>
<circle cx="90.72" cy="401.59" r="1.55" fill="none" stroke="#111" stroke-width="0.75"/>
<circle cx="93.00" cy="408.40" r="1.55" fill="none" stroke="#111" stroke-width="0.75"/>
<circle cx="102.80" cy="401.70" r="1.55" fill="none" stroke="#111" stroke-width="0.75"/>
<circle cx="105.80" cy="402.00" r="1.55" fill="none" stroke="#111" stroke-width="0.75"/>
<circle cx="108.80" cy="402.00" r="1.55" fill="none" stroke="#111" stroke-width="0.75"/>
<circle cx="105.80" cy="407.00" r="1.55" fill="none" stroke="#111" stroke-width="0.75"/>
<circle cx="119.26" cy="394.89" r="1.55" fill="none" stroke="#111" stroke-width="0.75"/>
<circle cx="121.52" cy="397.91" r="1.55" fill="none" stroke="#111" stroke-width="0.75"/>
<circle cx="117.33" cy="398.12" r="1.55" fill="none" stroke="#111" stroke-width="0.75"/>
<circle cx="120.15" cy="400.19" r="1.55" fill="none" stroke="#111" stroke-width="0.75"/>
<circle cx="118.72" cy="400.19" r="1.55" fill="none" stroke="#111" stroke-width="0.75"/>
<circle cx="116.11" cy="400.23" r="1.55" fill="none" stroke="#111" stroke-width="0.75"/>
<circle cx="118.24" cy="400.28" r="1.55" fill="none" stroke="#111" stroke-width="0.75"/>
<circle cx="123.91" cy="401.55" r="1.55" fill="none" stroke="#111" stroke-width="0.75"/>
<circle cx="116.10" cy="402.29" r="1.55" fill="none" stroke="#111" stroke-width="0.75"/>
<circle cx="117.97" cy="402.70" r="1.55" fill="none" stroke="#111" stroke-width="0.75"/>
<line x1="45.8" y1="430.5" x2="118.5" y2="430.5" stroke="#3c3c3c" stroke-width="1.0"/>
<text x="74.6" y="439.6" font-size="8.0" textLength="16.4" lengthAdjust="spacingAndGlyphs" fill="#2b2b2b">MPP</text>
<rect x="138.20" y="366.80" width="8.40" height="60.70" fill="#E48D7F"/>
<rect x="152.00" y="362.40" width="8.40" height="65.10" fill="#D2584C"/>
<rect x="170.60" y="386.30" width="8.40" height="41.20" fill="#AAD69A"/>
<rect x="184.60" y="376.50" width="8.40" height="51.00" fill="#7BC060"/>
<rect x="198.40" y="373.40" width="8.40" height="54.10" fill="#FAC88A"/>
<rect x="212.50" y="367.70" width="8.40" height="59.80" fill="#F4AA4B"/>
<circle cx="142.60" cy="361.46" r="1.55" fill="none" stroke="#111" stroke-width="0.75"/>
<circle cx="139.06" cy="362.49" r="1.55" fill="none" stroke="#111" stroke-width="0.75"/>
<circle cx="142.19" cy="364.90" r="1.55" fill="none" stroke="#111" stroke-width="0.75"/>
<circle cx="145.49" cy="364.94" r="1.55" fill="none" stroke="#111" stroke-width="0.75"/>
<circle cx="140.33" cy="367.65" r="1.55" fill="none" stroke="#111" stroke-width="0.75"/>
<circle cx="146.60" cy="368.02" r="1.55" fill="none" stroke="#111" stroke-width="0.75"/>
<circle cx="143.56" cy="368.05" r="1.55" fill="none" stroke="#111" stroke-width="0.75"/>
<circle cx="139.49" cy="369.39" r="1.55" fill="none" stroke="#111" stroke-width="0.75"/>
<circle cx="139.35" cy="369.84" r="1.55" fill="none" stroke="#111" stroke-width="0.75"/>
<circle cx="144.62" cy="370.51" r="1.55" fill="none" stroke="#111" stroke-width="0.75"/>
<circle cx="144.12" cy="371.30" r="1.55" fill="none" stroke="#111" stroke-width="0.75"/>
<circle cx="141.08" cy="373.42" r="1.55" fill="none" stroke="#111" stroke-width="0.75"/>
<circle cx="142.40" cy="383.10" r="1.55" fill="none" stroke="#111" stroke-width="0.75"/>
<circle cx="156.29" cy="352.11" r="1.55" fill="none" stroke="#111" stroke-width="0.75"/>
<circle cx="152.93" cy="352.13" r="1.55" fill="none" stroke="#111" stroke-width="0.75"/>
<circle cx="160.43" cy="352.17" r="1.55" fill="none" stroke="#111" stroke-width="0.75"/>
<circle cx="157.06" cy="352.88" r="1.55" fill="none" stroke="#111" stroke-width="0.75"/>
<circle cx="152.63" cy="354.27" r="1.55" fill="none" stroke="#111" stroke-width="0.75"/>
<circle cx="157.61" cy="354.51" r="1.55" fill="none" stroke="#111" stroke-width="0.75"/>
<circle cx="153.86" cy="354.57" r="1.55" fill="none" stroke="#111" stroke-width="0.75"/>
<circle cx="154.71" cy="355.21" r="1.55" fill="none" stroke="#111" stroke-width="0.75"/>
<circle cx="160.36" cy="357.03" r="1.55" fill="none" stroke="#111" stroke-width="0.75"/>
<circle cx="153.11" cy="358.07" r="1.55" fill="none" stroke="#111" stroke-width="0.75"/>
<circle cx="156.26" cy="359.73" r="1.55" fill="none" stroke="#111" stroke-width="0.75"/>
<circle cx="158.67" cy="360.19" r="1.55" fill="none" stroke="#111" stroke-width="0.75"/>
<circle cx="156.76" cy="360.93" r="1.55" fill="none" stroke="#111" stroke-width="0.75"/>
<circle cx="153.93" cy="362.86" r="1.55" fill="none" stroke="#111" stroke-width="0.75"/>
<circle cx="157.20" cy="372.10" r="1.55" fill="none" stroke="#111" stroke-width="0.75"/>
<circle cx="157.20" cy="377.40" r="1.55" fill="none" stroke="#111" stroke-width="0.75"/>
<line x1="174.8" y1="379" x2="174.8" y2="392" stroke="#222" stroke-width="0.8"/>
<line x1="172.70000000000002" y1="379" x2="176.9" y2="379" stroke="#222" stroke-width="0.8"/>
<line x1="172.70000000000002" y1="392" x2="176.9" y2="392" stroke="#222" stroke-width="0.8"/>
<circle cx="175.00" cy="379.20" r="1.55" fill="none" stroke="#111" stroke-width="0.75"/>
<circle cx="174.80" cy="383.31" r="1.55" fill="none" stroke="#111" stroke-width="0.75"/>
<circle cx="177.81" cy="384.15" r="1.55" fill="none" stroke="#111" stroke-width="0.75"/>
<circle cx="174.76" cy="386.63" r="1.55" fill="none" stroke="#111" stroke-width="0.75"/>
<circle cx="170.32" cy="386.70" r="1.55" fill="none" stroke="#111" stroke-width="0.75"/>
<circle cx="178.31" cy="388.37" r="1.55" fill="none" stroke="#111" stroke-width="0.75"/>
<circle cx="175.28" cy="388.57" r="1.55" fill="none" stroke="#111" stroke-width="0.75"/>
<circle cx="174.14" cy="389.34" r="1.55" fill="none" stroke="#111" stroke-width="0.75"/>
<circle cx="175.00" cy="391.60" r="1.55" fill="none" stroke="#111" stroke-width="0.75"/>
<line x1="188.8" y1="368" x2="188.8" y2="386.3" stroke="#222" stroke-width="0.8"/>
<line x1="186.70000000000002" y1="368" x2="190.9" y2="368" stroke="#222" stroke-width="0.8"/>
<line x1="186.70000000000002" y1="386.3" x2="190.9" y2="386.3" stroke="#222" stroke-width="0.8"/>
<circle cx="188.80" cy="367.70" r="1.55" fill="none" stroke="#111" stroke-width="0.75"/>
<circle cx="188.59" cy="369.11" r="1.55" fill="none" stroke="#111" stroke-width="0.75"/>
<circle cx="192.11" cy="369.38" r="1.55" fill="none" stroke="#111" stroke-width="0.75"/>
<circle cx="185.79" cy="370.52" r="1.55" fill="none" stroke="#111" stroke-width="0.75"/>
<circle cx="190.08" cy="371.30" r="1.55" fill="none" stroke="#111" stroke-width="0.75"/>
<circle cx="188.25" cy="371.93" r="1.55" fill="none" stroke="#111" stroke-width="0.75"/>
<circle cx="192.00" cy="374.31" r="1.55" fill="none" stroke="#111" stroke-width="0.75"/>
<circle cx="188.54" cy="376.05" r="1.55" fill="none" stroke="#111" stroke-width="0.75"/>
<circle cx="189.00" cy="380.21" r="1.55" fill="none" stroke="#111" stroke-width="0.75"/>
<circle cx="188.00" cy="406.60" r="1.55" fill="none" stroke="#111" stroke-width="0.75"/>
<circle cx="199.50" cy="373.40" r="1.55" fill="none" stroke="#111" stroke-width="0.75"/>
<circle cx="203.00" cy="373.40" r="1.55" fill="none" stroke="#111" stroke-width="0.75"/>
<circle cx="206.00" cy="373.40" r="1.55" fill="none" stroke="#111" stroke-width="0.75"/>
<circle cx="203.00" cy="381.00" r="1.55" fill="none" stroke="#111" stroke-width="0.75"/>
<line x1="216.7" y1="363" x2="216.7" y2="373" stroke="#222" stroke-width="0.8"/>
<line x1="214.6" y1="363" x2="218.79999999999998" y2="363" stroke="#222" stroke-width="0.8"/>
<line x1="214.6" y1="373" x2="218.79999999999998" y2="373" stroke="#222" stroke-width="0.8"/>
<circle cx="215.20" cy="363.80" r="1.55" fill="none" stroke="#111" stroke-width="0.75"/>
<circle cx="219.20" cy="364.00" r="1.55" fill="none" stroke="#111" stroke-width="0.75"/>
<circle cx="217.20" cy="367.00" r="1.55" fill="none" stroke="#111" stroke-width="0.75"/>
<circle cx="216.44" cy="367.41" r="1.55" fill="none" stroke="#111" stroke-width="0.75"/>
<circle cx="219.71" cy="368.36" r="1.55" fill="none" stroke="#111" stroke-width="0.75"/>
<circle cx="213.27" cy="368.69" r="1.55" fill="none" stroke="#111" stroke-width="0.75"/>
<circle cx="214.29" cy="369.44" r="1.55" fill="none" stroke="#111" stroke-width="0.75"/>
<circle cx="216.20" cy="381.90" r="1.55" fill="none" stroke="#111" stroke-width="0.75"/>
<line x1="142.9" y1="430.5" x2="216.1" y2="430.5" stroke="#3c3c3c" stroke-width="1.0"/>
<text x="169.8" y="439.6" font-size="8.0" textLength="19.3" lengthAdjust="spacingAndGlyphs" fill="#2b2b2b">HPC1</text>
<rect x="234.20" y="381.50" width="8.40" height="46.00" fill="#E48D7F"/>
<rect x="247.80" y="376.50" width="8.40" height="51.00" fill="#D2584C"/>
<rect x="266.60" y="408.40" width="8.40" height="19.10" fill="#AAD69A"/>
<rect x="280.70" y="393.40" width="8.40" height="34.10" fill="#7BC060"/>
<rect x="294.40" y="396.40" width="8.40" height="31.10" fill="#FAC88A"/>
<rect x="308.50" y="376.20" width="8.40" height="51.30" fill="#F4AA4B"/>
<line x1="238.39999999999998" y1="372" x2="238.39999999999998" y2="392" stroke="#222" stroke-width="0.8"/>
<line x1="236.29999999999998" y1="372" x2="240.49999999999997" y2="372" stroke="#222" stroke-width="0.8"/>
<line x1="236.29999999999998" y1="392" x2="240.49999999999997" y2="392" stroke="#222" stroke-width="0.8"/>
<circle cx="238.10" cy="370.40" r="1.55" fill="none" stroke="#111" stroke-width="0.75"/>
<circle cx="236.10" cy="373.90" r="1.55" fill="none" stroke="#111" stroke-width="0.75"/>
<circle cx="241.10" cy="374.00" r="1.55" fill="none" stroke="#111" stroke-width="0.75"/>
<circle cx="238.43" cy="380.43" r="1.55" fill="none" stroke="#111" stroke-width="0.75"/>
<circle cx="241.78" cy="381.47" r="1.55" fill="none" stroke="#111" stroke-width="0.75"/>
<circle cx="235.15" cy="381.65" r="1.55" fill="none" stroke="#111" stroke-width="0.75"/>
<circle cx="238.32" cy="383.96" r="1.55" fill="none" stroke="#111" stroke-width="0.75"/>
<circle cx="242.00" cy="385.53" r="1.55" fill="none" stroke="#111" stroke-width="0.75"/>
<circle cx="235.04" cy="386.28" r="1.55" fill="none" stroke="#111" stroke-width="0.75"/>
<circle cx="238.69" cy="388.97" r="1.55" fill="none" stroke="#111" stroke-width="0.75"/>
<circle cx="235.31" cy="390.32" r="1.55" fill="none" stroke="#111" stroke-width="0.75"/>
<circle cx="240.32" cy="391.90" r="1.55" fill="none" stroke="#111" stroke-width="0.75"/>
<circle cx="236.69" cy="392.52" r="1.55" fill="none" stroke="#111" stroke-width="0.75"/>
<circle cx="251.00" cy="365.60" r="1.55" fill="none" stroke="#111" stroke-width="0.75"/>
<circle cx="252.08" cy="367.82" r="1.55" fill="none" stroke="#111" stroke-width="0.75"/>
<circle cx="255.02" cy="369.39" r="1.55" fill="none" stroke="#111" stroke-width="0.75"/>
<circle cx="248.63" cy="369.75" r="1.55" fill="none" stroke="#111" stroke-width="0.75"/>
<circle cx="251.71" cy="372.19" r="1.55" fill="none" stroke="#111" stroke-width="0.75"/>
<circle cx="255.04" cy="373.10" r="1.55" fill="none" stroke="#111" stroke-width="0.75"/>
<circle cx="247.40" cy="373.19" r="1.55" fill="none" stroke="#111" stroke-width="0.75"/>
<circle cx="249.98" cy="374.26" r="1.55" fill="none" stroke="#111" stroke-width="0.75"/>
<circle cx="252.17" cy="377.88" r="1.55" fill="none" stroke="#111" stroke-width="0.75"/>
<circle cx="254.15" cy="380.79" r="1.55" fill="none" stroke="#111" stroke-width="0.75"/>
<circle cx="250.01" cy="381.13" r="1.55" fill="none" stroke="#111" stroke-width="0.75"/>
<circle cx="255.03" cy="381.68" r="1.55" fill="none" stroke="#111" stroke-width="0.75"/>
<circle cx="255.18" cy="381.92" r="1.55" fill="none" stroke="#111" stroke-width="0.75"/>
<circle cx="252.00" cy="390.40" r="1.55" fill="none" stroke="#111" stroke-width="0.75"/>
<line x1="270.8" y1="400" x2="270.8" y2="416" stroke="#222" stroke-width="0.8"/>
<line x1="268.7" y1="400" x2="272.90000000000003" y2="400" stroke="#222" stroke-width="0.8"/>
<line x1="268.7" y1="416" x2="272.90000000000003" y2="416" stroke="#222" stroke-width="0.8"/>
<circle cx="271.00" cy="399.90" r="1.55" fill="none" stroke="#111" stroke-width="0.75"/>
<circle cx="270.00" cy="403.10" r="1.55" fill="none" stroke="#111" stroke-width="0.75"/>
<circle cx="266.00" cy="409.80" r="1.55" fill="none" stroke="#111" stroke-width="0.75"/>
<circle cx="273.00" cy="408.40" r="1.55" fill="none" stroke="#111" stroke-width="0.75"/>
<circle cx="271.00" cy="414.60" r="1.55" fill="none" stroke="#111" stroke-width="0.75"/>
<circle cx="271.00" cy="418.10" r="1.55" fill="none" stroke="#111" stroke-width="0.75"/>
<line x1="284.9" y1="386" x2="284.9" y2="403" stroke="#222" stroke-width="0.8"/>
<line x1="282.79999999999995" y1="386" x2="287.0" y2="386" stroke="#222" stroke-width="0.8"/>
<line x1="282.79999999999995" y1="403" x2="287.0" y2="403" stroke="#222" stroke-width="0.8"/>
<circle cx="285.00" cy="381.50" r="1.55" fill="none" stroke="#111" stroke-width="0.75"/>
<circle cx="281.00" cy="390.40" r="1.55" fill="none" stroke="#111" stroke-width="0.75"/>
<circle cx="285.00" cy="390.00" r="1.55" fill="none" stroke="#111" stroke-width="0.75"/>
<circle cx="288.00" cy="391.00" r="1.55" fill="none" stroke="#111" stroke-width="0.75"/>
<circle cx="285.00" cy="395.00" r="1.55" fill="none" stroke="#111" stroke-width="0.75"/>
<circle cx="285.00" cy="419.00" r="1.55" fill="none" stroke="#111" stroke-width="0.75"/>
<line x1="298.59999999999997" y1="387" x2="298.59999999999997" y2="397" stroke="#222" stroke-width="0.8"/>
<line x1="296.49999999999994" y1="387" x2="300.7" y2="387" stroke="#222" stroke-width="0.8"/>
<line x1="296.49999999999994" y1="397" x2="300.7" y2="397" stroke="#222" stroke-width="0.8"/>
<circle cx="298.60" cy="386.80" r="1.55" fill="none" stroke="#111" stroke-width="0.75"/>
<circle cx="296.10" cy="395.10" r="1.55" fill="none" stroke="#111" stroke-width="0.75"/>
<circle cx="302.10" cy="393.40" r="1.55" fill="none" stroke="#111" stroke-width="0.75"/>
<circle cx="298.10" cy="396.90" r="1.55" fill="none" stroke="#111" stroke-width="0.75"/>
<circle cx="312.50" cy="372.56" r="1.55" fill="none" stroke="#111" stroke-width="0.75"/>
<circle cx="313.00" cy="377.76" r="1.55" fill="none" stroke="#111" stroke-width="0.75"/>
<circle cx="309.55" cy="378.55" r="1.55" fill="none" stroke="#111" stroke-width="0.75"/>
<circle cx="315.86" cy="379.75" r="1.55" fill="none" stroke="#111" stroke-width="0.75"/>
<circle cx="314.20" cy="380.92" r="1.55" fill="none" stroke="#111" stroke-width="0.75"/>
<circle cx="311.69" cy="381.13" r="1.55" fill="none" stroke="#111" stroke-width="0.75"/>
<circle cx="310.58" cy="381.20" r="1.55" fill="none" stroke="#111" stroke-width="0.75"/>
<circle cx="312.84" cy="382.74" r="1.55" fill="none" stroke="#111" stroke-width="0.75"/>
<circle cx="316.99" cy="383.14" r="1.55" fill="none" stroke="#111" stroke-width="0.75"/>
<circle cx="308.40" cy="383.72" r="1.55" fill="none" stroke="#111" stroke-width="0.75"/>
<line x1="238.8" y1="430.5" x2="312.0" y2="430.5" stroke="#3c3c3c" stroke-width="1.0"/>
<text x="265.2" y="439.6" font-size="8.0" textLength="19.9" lengthAdjust="spacingAndGlyphs" fill="#2b2b2b">HPC2</text>
<rect x="330.20" y="370.90" width="8.40" height="56.60" fill="#E48D7F"/>
<rect x="343.80" y="374.40" width="8.40" height="53.10" fill="#D2584C"/>
<rect x="362.60" y="384.50" width="8.40" height="43.00" fill="#AAD69A"/>
<rect x="376.60" y="376.50" width="8.40" height="51.00" fill="#7BC060"/>
<rect x="390.40" y="376.90" width="8.40" height="50.60" fill="#FAC88A"/>
<rect x="404.50" y="378.30" width="8.40" height="49.20" fill="#F4AA4B"/>
<line x1="334.4" y1="366" x2="334.4" y2="381" stroke="#222" stroke-width="0.8"/>
<line x1="332.29999999999995" y1="366" x2="336.5" y2="366" stroke="#222" stroke-width="0.8"/>
<line x1="332.29999999999995" y1="381" x2="336.5" y2="381" stroke="#222" stroke-width="0.8"/>
<circle cx="330.50" cy="365.00" r="1.55" fill="none" stroke="#111" stroke-width="0.75"/>
<circle cx="333.00" cy="367.70" r="1.55" fill="none" stroke="#111" stroke-width="0.75"/>
<circle cx="337.00" cy="368.00" r="1.55" fill="none" stroke="#111" stroke-width="0.75"/>
<circle cx="331.00" cy="381.00" r="1.55" fill="none" stroke="#111" stroke-width="0.75"/>
<circle cx="337.00" cy="381.00" r="1.55" fill="none" stroke="#111" stroke-width="0.75"/>
<circle cx="345.00" cy="367.70" r="1.55" fill="none" stroke="#111" stroke-width="0.75"/>
<circle cx="348.00" cy="367.00" r="1.55" fill="none" stroke="#111" stroke-width="0.75"/>
<circle cx="351.00" cy="367.70" r="1.55" fill="none" stroke="#111" stroke-width="0.75"/>
<circle cx="345.00" cy="372.00" r="1.55" fill="none" stroke="#111" stroke-width="0.75"/>
<circle cx="345.00" cy="377.00" r="1.55" fill="none" stroke="#111" stroke-width="0.75"/>
<circle cx="351.00" cy="377.00" r="1.55" fill="none" stroke="#111" stroke-width="0.75"/>
<circle cx="345.00" cy="396.90" r="1.55" fill="none" stroke="#111" stroke-width="0.75"/>
<circle cx="349.00" cy="395.10" r="1.55" fill="none" stroke="#111" stroke-width="0.75"/>
<line x1="366.8" y1="378" x2="366.8" y2="392" stroke="#222" stroke-width="0.8"/>
<line x1="364.7" y1="378" x2="368.90000000000003" y2="378" stroke="#222" stroke-width="0.8"/>
<line x1="364.7" y1="392" x2="368.90000000000003" y2="392" stroke="#222" stroke-width="0.8"/>
<circle cx="366.50" cy="377.40" r="1.55" fill="none" stroke="#111" stroke-width="0.75"/>
<circle cx="363.50" cy="381.50" r="1.55" fill="none" stroke="#111" stroke-width="0.75"/>
<circle cx="370.00" cy="381.50" r="1.55" fill="none" stroke="#111" stroke-width="0.75"/>
<circle cx="363.00" cy="387.20" r="1.55" fill="none" stroke="#111" stroke-width="0.75"/>
<circle cx="370.00" cy="388.50" r="1.55" fill="none" stroke="#111" stroke-width="0.75"/>
<circle cx="366.50" cy="399.90" r="1.55" fill="none" stroke="#111" stroke-width="0.75"/>
<line x1="380.8" y1="376" x2="380.8" y2="398" stroke="#222" stroke-width="0.8"/>
<line x1="378.7" y1="376" x2="382.90000000000003" y2="376" stroke="#222" stroke-width="0.8"/>
<line x1="378.7" y1="398" x2="382.90000000000003" y2="398" stroke="#222" stroke-width="0.8"/>
<circle cx="376.90" cy="368.60" r="1.55" fill="none" stroke="#111" stroke-width="0.75"/>
<circle cx="383.40" cy="368.00" r="1.55" fill="none" stroke="#111" stroke-width="0.75"/>
<circle cx="379.90" cy="372.00" r="1.55" fill="none" stroke="#111" stroke-width="0.75"/>
<circle cx="383.90" cy="372.00" r="1.55" fill="none" stroke="#111" stroke-width="0.75"/>
<circle cx="380.40" cy="381.00" r="1.55" fill="none" stroke="#111" stroke-width="0.75"/>
<circle cx="380.40" cy="396.40" r="1.55" fill="none" stroke="#111" stroke-width="0.75"/>
<circle cx="376.90" cy="402.70" r="1.55" fill="none" stroke="#111" stroke-width="0.75"/>
<circle cx="383.90" cy="402.70" r="1.55" fill="none" stroke="#111" stroke-width="0.75"/>
<line x1="394.59999999999997" y1="376" x2="394.59999999999997" y2="382" stroke="#222" stroke-width="0.8"/>
<line x1="392.49999999999994" y1="376" x2="396.7" y2="376" stroke="#222" stroke-width="0.8"/>
<line x1="392.49999999999994" y1="382" x2="396.7" y2="382" stroke="#222" stroke-width="0.8"/>
<circle cx="391.10" cy="376.20" r="1.55" fill="none" stroke="#111" stroke-width="0.75"/>
<circle cx="397.10" cy="376.20" r="1.55" fill="none" stroke="#111" stroke-width="0.75"/>
<circle cx="394.60" cy="382.70" r="1.55" fill="none" stroke="#111" stroke-width="0.75"/>
<circle cx="408.64" cy="375.69" r="1.55" fill="none" stroke="#111" stroke-width="0.75"/>
<circle cx="411.90" cy="375.69" r="1.55" fill="none" stroke="#111" stroke-width="0.75"/>
<circle cx="404.10" cy="376.12" r="1.55" fill="none" stroke="#111" stroke-width="0.75"/>
<circle cx="409.86" cy="377.55" r="1.55" fill="none" stroke="#111" stroke-width="0.75"/>
<circle cx="410.10" cy="377.64" r="1.55" fill="none" stroke="#111" stroke-width="0.75"/>
<circle cx="407.52" cy="378.33" r="1.55" fill="none" stroke="#111" stroke-width="0.75"/>
<circle cx="412.89" cy="379.86" r="1.55" fill="none" stroke="#111" stroke-width="0.75"/>
<circle cx="409.94" cy="381.17" r="1.55" fill="none" stroke="#111" stroke-width="0.75"/>
<line x1="336.2" y1="430.5" x2="408.9" y2="430.5" stroke="#3c3c3c" stroke-width="1.0"/>
<rect x="425.90" y="378.60" width="8.40" height="48.90" fill="#E48D7F"/>
<rect x="439.90" y="363.80" width="8.40" height="63.70" fill="#D2584C"/>
<rect x="458.40" y="378.60" width="8.40" height="48.90" fill="#AAD69A"/>
<rect x="472.10" y="368.50" width="8.40" height="59.00" fill="#7BC060"/>
<rect x="486.10" y="364.40" width="8.40" height="63.10" fill="#FAC88A"/>
<rect x="500.30" y="361.10" width="8.40" height="66.40" fill="#F4AA4B"/>
<circle cx="429.90" cy="368.50" r="1.55" fill="none" stroke="#111" stroke-width="0.75"/>
<circle cx="432.90" cy="373.10" r="1.55" fill="none" stroke="#111" stroke-width="0.75"/>
<circle cx="430.40" cy="375.04" r="1.55" fill="none" stroke="#111" stroke-width="0.75"/>
<circle cx="433.26" cy="376.62" r="1.55" fill="none" stroke="#111" stroke-width="0.75"/>
<circle cx="428.82" cy="378.10" r="1.55" fill="none" stroke="#111" stroke-width="0.75"/>
<circle cx="426.80" cy="379.11" r="1.55" fill="none" stroke="#111" stroke-width="0.75"/>
<circle cx="432.01" cy="379.91" r="1.55" fill="none" stroke="#111" stroke-width="0.75"/>
<line x1="444.09999999999997" y1="356.5" x2="444.09999999999997" y2="372" stroke="#222" stroke-width="0.8"/>
<line x1="441.99999999999994" y1="356.5" x2="446.2" y2="356.5" stroke="#222" stroke-width="0.8"/>
<line x1="441.99999999999994" y1="372" x2="446.2" y2="372" stroke="#222" stroke-width="0.8"/>
<circle cx="444.10" cy="351.00" r="1.55" fill="none" stroke="#111" stroke-width="0.75"/>
<circle cx="441.10" cy="365.70" r="1.55" fill="none" stroke="#111" stroke-width="0.75"/>
<circle cx="447.10" cy="366.00" r="1.55" fill="none" stroke="#111" stroke-width="0.75"/>
<circle cx="444.10" cy="381.40" r="1.55" fill="none" stroke="#111" stroke-width="0.75"/>
<circle cx="444.10" cy="391.00" r="1.55" fill="none" stroke="#111" stroke-width="0.75"/>
<circle cx="444.02" cy="362.44" r="1.55" fill="none" stroke="#111" stroke-width="0.75"/>
<circle cx="447.54" cy="364.06" r="1.55" fill="none" stroke="#111" stroke-width="0.75"/>
<circle cx="442.01" cy="365.26" r="1.55" fill="none" stroke="#111" stroke-width="0.75"/>
<circle cx="444.98" cy="365.57" r="1.55" fill="none" stroke="#111" stroke-width="0.75"/>
<circle cx="447.52" cy="367.94" r="1.55" fill="none" stroke="#111" stroke-width="0.75"/>
<line x1="462.59999999999997" y1="374" x2="462.59999999999997" y2="384" stroke="#222" stroke-width="0.8"/>
<line x1="460.49999999999994" y1="374" x2="464.7" y2="374" stroke="#222" stroke-width="0.8"/>
<line x1="460.49999999999994" y1="384" x2="464.7" y2="384" stroke="#222" stroke-width="0.8"/>
<circle cx="459.10" cy="373.60" r="1.55" fill="none" stroke="#111" stroke-width="0.75"/>
<circle cx="466.10" cy="373.60" r="1.55" fill="none" stroke="#111" stroke-width="0.75"/>
<circle cx="462.60" cy="378.00" r="1.55" fill="none" stroke="#111" stroke-width="0.75"/>
<circle cx="462.10" cy="382.00" r="1.55" fill="none" stroke="#111" stroke-width="0.75"/>
<circle cx="462.10" cy="384.20" r="1.55" fill="none" stroke="#111" stroke-width="0.75"/>
<line x1="476.3" y1="364" x2="476.3" y2="374" stroke="#222" stroke-width="0.8"/>
<line x1="474.2" y1="364" x2="478.40000000000003" y2="364" stroke="#222" stroke-width="0.8"/>
<line x1="474.2" y1="374" x2="478.40000000000003" y2="374" stroke="#222" stroke-width="0.8"/>
<circle cx="474.00" cy="362.90" r="1.55" fill="none" stroke="#111" stroke-width="0.75"/>
<circle cx="480.00" cy="362.90" r="1.55" fill="none" stroke="#111" stroke-width="0.75"/>
<circle cx="477.00" cy="366.00" r="1.55" fill="none" stroke="#111" stroke-width="0.75"/>
<circle cx="474.00" cy="371.00" r="1.55" fill="none" stroke="#111" stroke-width="0.75"/>
<circle cx="480.00" cy="371.00" r="1.55" fill="none" stroke="#111" stroke-width="0.75"/>
<circle cx="477.00" cy="378.60" r="1.55" fill="none" stroke="#111" stroke-width="0.75"/>
<line x1="490.3" y1="358" x2="490.3" y2="372" stroke="#222" stroke-width="0.8"/>
<line x1="488.2" y1="358" x2="492.40000000000003" y2="358" stroke="#222" stroke-width="0.8"/>
<line x1="488.2" y1="372" x2="492.40000000000003" y2="372" stroke="#222" stroke-width="0.8"/>
<circle cx="490.30" cy="360.20" r="1.55" fill="none" stroke="#111" stroke-width="0.75"/>
<circle cx="490.30" cy="372.20" r="1.55" fill="none" stroke="#111" stroke-width="0.75"/>
<line x1="504.5" y1="356" x2="504.5" y2="366" stroke="#222" stroke-width="0.8"/>
<line x1="502.4" y1="356" x2="506.6" y2="356" stroke="#222" stroke-width="0.8"/>
<line x1="502.4" y1="366" x2="506.6" y2="366" stroke="#222" stroke-width="0.8"/>
<circle cx="500.00" cy="353.30" r="1.55" fill="none" stroke="#111" stroke-width="0.75"/>
<circle cx="507.00" cy="353.30" r="1.55" fill="none" stroke="#111" stroke-width="0.75"/>
<circle cx="504.00" cy="357.00" r="1.55" fill="none" stroke="#111" stroke-width="0.75"/>
<circle cx="504.49" cy="360.24" r="1.55" fill="none" stroke="#111" stroke-width="0.75"/>
<circle cx="507.81" cy="361.69" r="1.55" fill="none" stroke="#111" stroke-width="0.75"/>
<circle cx="501.02" cy="362.02" r="1.55" fill="none" stroke="#111" stroke-width="0.75"/>
<circle cx="502.02" cy="362.51" r="1.55" fill="none" stroke="#111" stroke-width="0.75"/>
<circle cx="505.89" cy="362.69" r="1.55" fill="none" stroke="#111" stroke-width="0.75"/>
<circle cx="504.00" cy="370.30" r="1.55" fill="none" stroke="#111" stroke-width="0.75"/>
<line x1="434.2" y1="430.5" x2="506.6" y2="430.5" stroke="#3c3c3c" stroke-width="1.0"/>
<text x="352.7" y="440.0" font-size="7.9" fill="#2b2b2b">HPC1 Flt3<tspan font-size="5" dy="-3.2">hi</tspan></text>
<text x="343.9" y="448.8" font-size="7.9" textLength="58.3" lengthAdjust="spacingAndGlyphs" fill="#2b2b2b">lymphoid biased</text>
<text x="449.7" y="440.0" font-size="7.9" fill="#2b2b2b">HPC1 Flt3<tspan font-size="5" dy="-3.2">lo</tspan></text>
<text x="443.1" y="448.8" font-size="7.9" textLength="54.3" lengthAdjust="spacingAndGlyphs" fill="#2b2b2b">myeloid biased</text>
<line x1="59.2" y1="467.3" x2="118.5" y2="467.3" stroke="#333" stroke-width="1.1"/>
<circle cx="87.05" cy="463.10" r="1.1" fill="#2a2a2a"/>
<circle cx="90.65" cy="463.10" r="1.1" fill="#2a2a2a"/>
<line x1="59.2" y1="477.2" x2="92.9" y2="477.2" stroke="#333" stroke-width="1.1"/>
<circle cx="72.45" cy="473.00" r="1.1" fill="#2a2a2a"/>
<circle cx="76.05" cy="473.00" r="1.1" fill="#2a2a2a"/>
<circle cx="79.65" cy="473.00" r="1.1" fill="#2a2a2a"/>
<line x1="156.5" y1="467.3" x2="215.8" y2="467.3" stroke="#333" stroke-width="1.1"/>
<circle cx="184.35" cy="463.10" r="1.1" fill="#2a2a2a"/>
<circle cx="187.95" cy="463.10" r="1.1" fill="#2a2a2a"/>
<line x1="156.5" y1="477.2" x2="189.7" y2="477.2" stroke="#333" stroke-width="1.1"/>
<circle cx="169.50" cy="473.00" r="1.1" fill="#2a2a2a"/>
<circle cx="173.10" cy="473.00" r="1.1" fill="#2a2a2a"/>
<circle cx="176.70" cy="473.00" r="1.1" fill="#2a2a2a"/>
<line x1="251.8" y1="477.2" x2="285.2" y2="477.2" stroke="#333" stroke-width="1.1"/>
<circle cx="266.70" cy="473.00" r="1.1" fill="#2a2a2a"/>
<circle cx="270.30" cy="473.00" r="1.1" fill="#2a2a2a"/>
<line x1="350.4" y1="467.3" x2="409.6" y2="467.3" stroke="#333" stroke-width="1.1"/>
<circle cx="378.20" cy="463.10" r="1.1" fill="#2a2a2a"/>
<circle cx="381.80" cy="463.10" r="1.1" fill="#2a2a2a"/>
<line x1="37.5" y1="485.8" x2="37.5" y2="564.2" stroke="#1e1e1e" stroke-width="1.0"/>
<line x1="34.3" y1="492.5" x2="37.5" y2="492.5" stroke="#1e1e1e" stroke-width="1.0"/>
<text x="32.10" y="491.10" font-size="5.6" text-anchor="end" fill="#2b2b2b">5</text>
<text x="28.70" y="494.80" font-size="8.0" text-anchor="end" fill="#2b2b2b" textLength="7.3" lengthAdjust="spacingAndGlyphs">10</text>
<line x1="34.3" y1="516.5" x2="37.5" y2="516.5" stroke="#1e1e1e" stroke-width="1.0"/>
<text x="32.10" y="515.00" font-size="5.6" text-anchor="end" fill="#2b2b2b">4</text>
<text x="28.70" y="518.70" font-size="8.0" text-anchor="end" fill="#2b2b2b" textLength="7.3" lengthAdjust="spacingAndGlyphs">10</text>
<line x1="34.3" y1="539.5" x2="37.5" y2="539.5" stroke="#1e1e1e" stroke-width="1.0"/>
<text x="32.10" y="538.90" font-size="5.6" text-anchor="end" fill="#2b2b2b">3</text>
<text x="28.70" y="542.60" font-size="8.0" text-anchor="end" fill="#2b2b2b" textLength="7.3" lengthAdjust="spacingAndGlyphs">10</text>
<line x1="34.3" y1="563.5" x2="37.5" y2="563.5" stroke="#1e1e1e" stroke-width="1.0"/>
<text x="32.10" y="562.80" font-size="5.6" text-anchor="end" fill="#2b2b2b">2</text>
<text x="28.70" y="566.50" font-size="8.0" text-anchor="end" fill="#2b2b2b" textLength="7.3" lengthAdjust="spacingAndGlyphs">10</text>
<line x1="37.0" y1="564.0" x2="412.9" y2="564.0" stroke="#1e1e1e" stroke-width="1.0"/>
<text x="0" y="0" font-size="7.9" text-anchor="middle" fill="#2b2b2b" textLength="51.2" lengthAdjust="spacingAndGlyphs" transform="translate(14.40,525.10) rotate(-90)">Cells per femur</text>
<rect x="42.40" y="495.00" width="8.40" height="69.00" fill="#E48D7F"/>
<rect x="56.00" y="493.80" width="8.40" height="70.20" fill="#D2584C"/>
<rect x="74.30" y="512.70" width="8.40" height="51.30" fill="#AAD69A"/>
<rect x="87.90" y="504.80" width="8.40" height="59.20" fill="#7BC060"/>
<rect x="101.40" y="501.20" width="8.40" height="62.80" fill="#FAC88A"/>
<rect x="115.00" y="499.50" width="8.40" height="64.50" fill="#F4AA4B"/>
<circle cx="46.48" cy="492.25" r="1.55" fill="none" stroke="#111" stroke-width="0.75"/>
<circle cx="49.68" cy="494.32" r="1.55" fill="none" stroke="#111" stroke-width="0.75"/>
<circle cx="45.25" cy="495.43" r="1.55" fill="none" stroke="#111" stroke-width="0.75"/>
<circle cx="46.59" cy="495.85" r="1.55" fill="none" stroke="#111" stroke-width="0.75"/>
<circle cx="42.25" cy="496.91" r="1.55" fill="none" stroke="#111" stroke-width="0.75"/>
<circle cx="50.59" cy="496.95" r="1.55" fill="none" stroke="#111" stroke-width="0.75"/>
<circle cx="48.73" cy="497.80" r="1.55" fill="none" stroke="#111" stroke-width="0.75"/>
<circle cx="45.91" cy="498.63" r="1.55" fill="none" stroke="#111" stroke-width="0.75"/>
<circle cx="44.67" cy="499.40" r="1.55" fill="none" stroke="#111" stroke-width="0.75"/>
<circle cx="47.55" cy="501.91" r="1.55" fill="none" stroke="#111" stroke-width="0.75"/>
<circle cx="44.37" cy="503.05" r="1.55" fill="none" stroke="#111" stroke-width="0.75"/>
<circle cx="51.03" cy="504.19" r="1.55" fill="none" stroke="#111" stroke-width="0.75"/>
<circle cx="46.10" cy="518.00" r="1.55" fill="none" stroke="#111" stroke-width="0.75"/>
<circle cx="58.90" cy="484.40" r="1.55" fill="none" stroke="#111" stroke-width="0.75"/>
<circle cx="61.90" cy="484.40" r="1.55" fill="none" stroke="#111" stroke-width="0.75"/>
<circle cx="60.40" cy="488.50" r="1.55" fill="none" stroke="#111" stroke-width="0.75"/>
<circle cx="60.08" cy="491.29" r="1.55" fill="none" stroke="#111" stroke-width="0.75"/>
<circle cx="63.71" cy="491.88" r="1.55" fill="none" stroke="#111" stroke-width="0.75"/>
<circle cx="55.57" cy="492.04" r="1.55" fill="none" stroke="#111" stroke-width="0.75"/>
<circle cx="59.95" cy="495.64" r="1.55" fill="none" stroke="#111" stroke-width="0.75"/>
<circle cx="63.40" cy="496.37" r="1.55" fill="none" stroke="#111" stroke-width="0.75"/>
<circle cx="55.71" cy="496.57" r="1.55" fill="none" stroke="#111" stroke-width="0.75"/>
<circle cx="60.12" cy="497.58" r="1.55" fill="none" stroke="#111" stroke-width="0.75"/>
<circle cx="57.48" cy="498.84" r="1.55" fill="none" stroke="#111" stroke-width="0.75"/>
<circle cx="62.31" cy="500.27" r="1.55" fill="none" stroke="#111" stroke-width="0.75"/>
<circle cx="58.73" cy="500.56" r="1.55" fill="none" stroke="#111" stroke-width="0.75"/>
<circle cx="60.79" cy="501.87" r="1.55" fill="none" stroke="#111" stroke-width="0.75"/>
<circle cx="55.76" cy="502.60" r="1.55" fill="none" stroke="#111" stroke-width="0.75"/>
<circle cx="59.90" cy="509.70" r="1.55" fill="none" stroke="#111" stroke-width="0.75"/>
<line x1="78.5" y1="510" x2="78.5" y2="517" stroke="#222" stroke-width="0.8"/>
<line x1="76.4" y1="510" x2="80.6" y2="510" stroke="#222" stroke-width="0.8"/>
<line x1="76.4" y1="517" x2="80.6" y2="517" stroke="#222" stroke-width="0.8"/>
<circle cx="75.60" cy="511.50" r="1.55" fill="none" stroke="#111" stroke-width="0.75"/>
<circle cx="78.60" cy="510.40" r="1.55" fill="none" stroke="#111" stroke-width="0.75"/>
<circle cx="81.60" cy="511.50" r="1.55" fill="none" stroke="#111" stroke-width="0.75"/>
<circle cx="78.60" cy="516.30" r="1.55" fill="none" stroke="#111" stroke-width="0.75"/>
<circle cx="78.60" cy="522.10" r="1.55" fill="none" stroke="#111" stroke-width="0.75"/>
<circle cx="91.90" cy="497.70" r="1.55" fill="none" stroke="#111" stroke-width="0.75"/>
<circle cx="91.89" cy="502.59" r="1.55" fill="none" stroke="#111" stroke-width="0.75"/>
<circle cx="95.28" cy="502.66" r="1.55" fill="none" stroke="#111" stroke-width="0.75"/>
<circle cx="87.89" cy="503.06" r="1.55" fill="none" stroke="#111" stroke-width="0.75"/>
<circle cx="92.00" cy="504.27" r="1.55" fill="none" stroke="#111" stroke-width="0.75"/>
<circle cx="94.74" cy="505.71" r="1.55" fill="none" stroke="#111" stroke-width="0.75"/>
<circle cx="88.77" cy="506.54" r="1.55" fill="none" stroke="#111" stroke-width="0.75"/>
<circle cx="91.90" cy="507.95" r="1.55" fill="none" stroke="#111" stroke-width="0.75"/>
<circle cx="95.57" cy="509.80" r="1.55" fill="none" stroke="#111" stroke-width="0.75"/>
<circle cx="91.81" cy="511.82" r="1.55" fill="none" stroke="#111" stroke-width="0.75"/>
<circle cx="87.85" cy="512.28" r="1.55" fill="none" stroke="#111" stroke-width="0.75"/>
<line x1="105.60000000000001" y1="494.5" x2="105.60000000000001" y2="516" stroke="#222" stroke-width="0.8"/>
<line x1="103.50000000000001" y1="494.5" x2="107.7" y2="494.5" stroke="#222" stroke-width="0.8"/>
<line x1="103.50000000000001" y1="516" x2="107.7" y2="516" stroke="#222" stroke-width="0.8"/>
<circle cx="105.50" cy="494.50" r="1.55" fill="none" stroke="#111" stroke-width="0.75"/>
<circle cx="105.50" cy="502.10" r="1.55" fill="none" stroke="#111" stroke-width="0.75"/>
<circle cx="105.50" cy="516.30" r="1.55" fill="none" stroke="#111" stroke-width="0.75"/>
<line x1="119.2" y1="498" x2="119.2" y2="508" stroke="#222" stroke-width="0.8"/>
<line x1="117.10000000000001" y1="498" x2="121.3" y2="498" stroke="#222" stroke-width="0.8"/>
<line x1="117.10000000000001" y1="508" x2="121.3" y2="508" stroke="#222" stroke-width="0.8"/>
<circle cx="115.80" cy="499.50" r="1.55" fill="none" stroke="#111" stroke-width="0.75"/>
<circle cx="121.30" cy="497.30" r="1.55" fill="none" stroke="#111" stroke-width="0.75"/>
<circle cx="122.80" cy="499.50" r="1.55" fill="none" stroke="#111" stroke-width="0.75"/>
<circle cx="118.80" cy="500.90" r="1.55" fill="none" stroke="#111" stroke-width="0.75"/>
<circle cx="117.30" cy="504.80" r="1.55" fill="none" stroke="#111" stroke-width="0.75"/>
<circle cx="120.80" cy="504.80" r="1.55" fill="none" stroke="#111" stroke-width="0.75"/>
<circle cx="119.30" cy="510.10" r="1.55" fill="none" stroke="#111" stroke-width="0.75"/>
<line x1="46.2" y1="567.0" x2="119.0" y2="567.0" stroke="#3c3c3c" stroke-width="1.0"/>
<text x="74.1" y="576.6" font-size="8.0" textLength="16.9" lengthAdjust="spacingAndGlyphs" fill="#2b2b2b">CMP</text>
<rect x="136.40" y="500.90" width="8.40" height="63.10" fill="#E48D7F"/>
<rect x="150.10" y="495.00" width="8.40" height="69.00" fill="#D2584C"/>
<rect x="168.30" y="520.40" width="8.40" height="43.60" fill="#AAD69A"/>
<rect x="181.90" y="514.50" width="8.40" height="49.50" fill="#7BC060"/>
<rect x="195.40" y="517.20" width="8.40" height="46.80" fill="#FAC88A"/>
<rect x="209.30" y="509.20" width="8.40" height="54.80" fill="#F4AA4B"/>
<line x1="140.60000000000002" y1="492" x2="140.60000000000002" y2="520" stroke="#222" stroke-width="0.8"/>
<line x1="138.50000000000003" y1="492" x2="142.70000000000002" y2="492" stroke="#222" stroke-width="0.8"/>
<line x1="138.50000000000003" y1="520" x2="142.70000000000002" y2="520" stroke="#222" stroke-width="0.8"/>
<circle cx="140.60" cy="491.00" r="1.55" fill="none" stroke="#111" stroke-width="0.75"/>
<circle cx="137.10" cy="496.30" r="1.55" fill="none" stroke="#111" stroke-width="0.75"/>
<circle cx="141.10" cy="496.00" r="1.55" fill="none" stroke="#111" stroke-width="0.75"/>
<circle cx="144.10" cy="496.00" r="1.55" fill="none" stroke="#111" stroke-width="0.75"/>
<circle cx="138.10" cy="500.00" r="1.55" fill="none" stroke="#111" stroke-width="0.75"/>
<circle cx="143.10" cy="500.00" r="1.55" fill="none" stroke="#111" stroke-width="0.75"/>
<circle cx="140.60" cy="505.00" r="1.55" fill="none" stroke="#111" stroke-width="0.75"/>
<circle cx="139.10" cy="509.00" r="1.55" fill="none" stroke="#111" stroke-width="0.75"/>
<circle cx="142.10" cy="509.00" r="1.55" fill="none" stroke="#111" stroke-width="0.75"/>
<circle cx="140.60" cy="514.00" r="1.55" fill="none" stroke="#111" stroke-width="0.75"/>
<circle cx="139.10" cy="520.00" r="1.55" fill="none" stroke="#111" stroke-width="0.75"/>
<circle cx="142.10" cy="520.00" r="1.55" fill="none" stroke="#111" stroke-width="0.75"/>
<circle cx="140.60" cy="525.00" r="1.55" fill="none" stroke="#111" stroke-width="0.75"/>
<line x1="154.3" y1="488" x2="154.3" y2="505" stroke="#222" stroke-width="0.8"/>
<line x1="152.20000000000002" y1="488" x2="156.4" y2="488" stroke="#222" stroke-width="0.8"/>
<line x1="152.20000000000002" y1="505" x2="156.4" y2="505" stroke="#222" stroke-width="0.8"/>
<circle cx="155.00" cy="484.40" r="1.55" fill="none" stroke="#111" stroke-width="0.75"/>
<circle cx="156.00" cy="488.00" r="1.55" fill="none" stroke="#111" stroke-width="0.75"/>
<circle cx="153.00" cy="488.00" r="1.55" fill="none" stroke="#111" stroke-width="0.75"/>
<circle cx="154.29" cy="491.25" r="1.55" fill="none" stroke="#111" stroke-width="0.75"/>
<circle cx="157.88" cy="492.42" r="1.55" fill="none" stroke="#111" stroke-width="0.75"/>
<circle cx="150.83" cy="492.59" r="1.55" fill="none" stroke="#111" stroke-width="0.75"/>
<circle cx="156.40" cy="493.66" r="1.55" fill="none" stroke="#111" stroke-width="0.75"/>
<circle cx="152.95" cy="495.56" r="1.55" fill="none" stroke="#111" stroke-width="0.75"/>
<circle cx="156.80" cy="496.98" r="1.55" fill="none" stroke="#111" stroke-width="0.75"/>
<circle cx="153.17" cy="499.05" r="1.55" fill="none" stroke="#111" stroke-width="0.75"/>
<circle cx="157.63" cy="500.26" r="1.55" fill="none" stroke="#111" stroke-width="0.75"/>
<circle cx="149.78" cy="501.14" r="1.55" fill="none" stroke="#111" stroke-width="0.75"/>
<circle cx="154.33" cy="502.41" r="1.55" fill="none" stroke="#111" stroke-width="0.75"/>
<circle cx="157.71" cy="502.66" r="1.55" fill="none" stroke="#111" stroke-width="0.75"/>
<circle cx="151.14" cy="504.24" r="1.55" fill="none" stroke="#111" stroke-width="0.75"/>
<circle cx="155.00" cy="517.20" r="1.55" fill="none" stroke="#111" stroke-width="0.75"/>
<circle cx="155.00" cy="519.00" r="1.55" fill="none" stroke="#111" stroke-width="0.75"/>
<line x1="172.5" y1="515" x2="172.5" y2="528" stroke="#222" stroke-width="0.8"/>
<line x1="170.4" y1="515" x2="174.6" y2="515" stroke="#222" stroke-width="0.8"/>
<line x1="170.4" y1="528" x2="174.6" y2="528" stroke="#222" stroke-width="0.8"/>
<circle cx="169.00" cy="514.50" r="1.55" fill="none" stroke="#111" stroke-width="0.75"/>
<circle cx="173.00" cy="515.00" r="1.55" fill="none" stroke="#111" stroke-width="0.75"/>
<circle cx="176.00" cy="515.50" r="1.55" fill="none" stroke="#111" stroke-width="0.75"/>
<circle cx="173.00" cy="522.50" r="1.55" fill="none" stroke="#111" stroke-width="0.75"/>
<circle cx="173.00" cy="527.40" r="1.55" fill="none" stroke="#111" stroke-width="0.75"/>
<circle cx="170.00" cy="529.60" r="1.55" fill="none" stroke="#111" stroke-width="0.75"/>
<line x1="186.10000000000002" y1="508" x2="186.10000000000002" y2="525" stroke="#222" stroke-width="0.8"/>
<line x1="184.00000000000003" y1="508" x2="188.20000000000002" y2="508" stroke="#222" stroke-width="0.8"/>
<line x1="184.00000000000003" y1="525" x2="188.20000000000002" y2="525" stroke="#222" stroke-width="0.8"/>
<circle cx="185.90" cy="506.90" r="1.55" fill="none" stroke="#111" stroke-width="0.75"/>
<circle cx="182.90" cy="511.00" r="1.55" fill="none" stroke="#111" stroke-width="0.75"/>
<circle cx="188.90" cy="511.00" r="1.55" fill="none" stroke="#111" stroke-width="0.75"/>
<circle cx="185.90" cy="517.20" r="1.55" fill="none" stroke="#111" stroke-width="0.75"/>
<circle cx="185.90" cy="522.50" r="1.55" fill="none" stroke="#111" stroke-width="0.75"/>
<circle cx="185.90" cy="526.40" r="1.55" fill="none" stroke="#111" stroke-width="0.75"/>
<circle cx="185.90" cy="530.40" r="1.55" fill="none" stroke="#111" stroke-width="0.75"/>
<line x1="199.60000000000002" y1="512" x2="199.60000000000002" y2="522" stroke="#222" stroke-width="0.8"/>
<line x1="197.50000000000003" y1="512" x2="201.70000000000002" y2="512" stroke="#222" stroke-width="0.8"/>
<line x1="197.50000000000003" y1="522" x2="201.70000000000002" y2="522" stroke="#222" stroke-width="0.8"/>
<circle cx="199.60" cy="511.90" r="1.55" fill="none" stroke="#111" stroke-width="0.75"/>
<circle cx="199.60" cy="516.80" r="1.55" fill="none" stroke="#111" stroke-width="0.75"/>
<circle cx="199.60" cy="522.50" r="1.55" fill="none" stroke="#111" stroke-width="0.75"/>
<line x1="213.5" y1="503" x2="213.5" y2="515" stroke="#222" stroke-width="0.8"/>
<line x1="211.4" y1="503" x2="215.6" y2="503" stroke="#222" stroke-width="0.8"/>
<line x1="211.4" y1="515" x2="215.6" y2="515" stroke="#222" stroke-width="0.8"/>
<circle cx="210.00" cy="502.10" r="1.55" fill="none" stroke="#111" stroke-width="0.75"/>
<circle cx="216.00" cy="503.90" r="1.55" fill="none" stroke="#111" stroke-width="0.75"/>
<circle cx="213.50" cy="505.00" r="1.55" fill="none" stroke="#111" stroke-width="0.75"/>
<circle cx="213.78" cy="512.79" r="1.55" fill="none" stroke="#111" stroke-width="0.75"/>
<circle cx="210.30" cy="514.02" r="1.55" fill="none" stroke="#111" stroke-width="0.75"/>
<circle cx="215.39" cy="514.08" r="1.55" fill="none" stroke="#111" stroke-width="0.75"/>
<circle cx="213.53" cy="514.30" r="1.55" fill="none" stroke="#111" stroke-width="0.75"/>
<circle cx="216.52" cy="516.21" r="1.55" fill="none" stroke="#111" stroke-width="0.75"/>
<line x1="137.5" y1="567.0" x2="210.2" y2="567.0" stroke="#3c3c3c" stroke-width="1.0"/>
<text x="164.9" y="576.6" font-size="8.0" textLength="18.0" lengthAdjust="spacingAndGlyphs" fill="#2b2b2b">GMP</text>
<rect x="231.00" y="516.30" width="8.40" height="47.70" fill="#E48D7F"/>
<rect x="244.60" y="513.60" width="8.40" height="50.40" fill="#D2584C"/>
<rect x="263.20" y="527.40" width="8.40" height="36.60" fill="#AAD69A"/>
<rect x="277.00" y="527.40" width="8.40" height="36.60" fill="#7BC060"/>
<rect x="290.60" y="512.70" width="8.40" height="51.30" fill="#FAC88A"/>
<rect x="303.90" y="516.30" width="8.40" height="47.70" fill="#F4AA4B"/>
<line x1="235.2" y1="508" x2="235.2" y2="522" stroke="#222" stroke-width="0.8"/>
<line x1="233.1" y1="508" x2="237.29999999999998" y2="508" stroke="#222" stroke-width="0.8"/>
<line x1="233.1" y1="522" x2="237.29999999999998" y2="522" stroke="#222" stroke-width="0.8"/>
<circle cx="232.00" cy="509.70" r="1.55" fill="none" stroke="#111" stroke-width="0.75"/>
<circle cx="236.00" cy="508.00" r="1.55" fill="none" stroke="#111" stroke-width="0.75"/>
<circle cx="239.00" cy="512.00" r="1.55" fill="none" stroke="#111" stroke-width="0.75"/>
<circle cx="232.00" cy="516.30" r="1.55" fill="none" stroke="#111" stroke-width="0.75"/>
<circle cx="239.00" cy="516.00" r="1.55" fill="none" stroke="#111" stroke-width="0.75"/>
<circle cx="235.18" cy="513.95" r="1.55" fill="none" stroke="#111" stroke-width="0.75"/>
<circle cx="235.30" cy="517.81" r="1.55" fill="none" stroke="#111" stroke-width="0.75"/>
<circle cx="235.03" cy="521.24" r="1.55" fill="none" stroke="#111" stroke-width="0.75"/>
<circle cx="238.33" cy="521.65" r="1.55" fill="none" stroke="#111" stroke-width="0.75"/>
<circle cx="235.20" cy="525.10" r="1.55" fill="none" stroke="#111" stroke-width="0.75"/>
<circle cx="235.20" cy="532.20" r="1.55" fill="none" stroke="#111" stroke-width="0.75"/>
<circle cx="235.20" cy="536.60" r="1.55" fill="none" stroke="#111" stroke-width="0.75"/>
<line x1="248.8" y1="505" x2="248.8" y2="522" stroke="#222" stroke-width="0.8"/>
<line x1="246.70000000000002" y1="505" x2="250.9" y2="505" stroke="#222" stroke-width="0.8"/>
<line x1="246.70000000000002" y1="522" x2="250.9" y2="522" stroke="#222" stroke-width="0.8"/>
<circle cx="249.00" cy="504.40" r="1.55" fill="none" stroke="#111" stroke-width="0.75"/>
<circle cx="246.00" cy="507.00" r="1.55" fill="none" stroke="#111" stroke-width="0.75"/>
<circle cx="252.00" cy="513.00" r="1.55" fill="none" stroke="#111" stroke-width="0.75"/>
<circle cx="248.87" cy="510.73" r="1.55" fill="none" stroke="#111" stroke-width="0.75"/>
<circle cx="252.11" cy="512.52" r="1.55" fill="none" stroke="#111" stroke-width="0.75"/>
<circle cx="245.73" cy="512.88" r="1.55" fill="none" stroke="#111" stroke-width="0.75"/>
<circle cx="248.94" cy="516.53" r="1.55" fill="none" stroke="#111" stroke-width="0.75"/>
<circle cx="246.53" cy="519.01" r="1.55" fill="none" stroke="#111" stroke-width="0.75"/>
<circle cx="250.84" cy="519.63" r="1.55" fill="none" stroke="#111" stroke-width="0.75"/>
<circle cx="246.16" cy="520.33" r="1.55" fill="none" stroke="#111" stroke-width="0.75"/>
<circle cx="250.31" cy="520.47" r="1.55" fill="none" stroke="#111" stroke-width="0.75"/>
<circle cx="248.36" cy="520.50" r="1.55" fill="none" stroke="#111" stroke-width="0.75"/>
<circle cx="253.03" cy="522.11" r="1.55" fill="none" stroke="#111" stroke-width="0.75"/>
<line x1="267.4" y1="520" x2="267.4" y2="535" stroke="#222" stroke-width="0.8"/>
<line x1="265.29999999999995" y1="520" x2="269.5" y2="520" stroke="#222" stroke-width="0.8"/>
<line x1="265.29999999999995" y1="535" x2="269.5" y2="535" stroke="#222" stroke-width="0.8"/>
<circle cx="263.40" cy="522.50" r="1.55" fill="none" stroke="#111" stroke-width="0.75"/>
<circle cx="270.40" cy="520.40" r="1.55" fill="none" stroke="#111" stroke-width="0.75"/>
<circle cx="263.40" cy="528.10" r="1.55" fill="none" stroke="#111" stroke-width="0.75"/>
<circle cx="270.40" cy="528.00" r="1.55" fill="none" stroke="#111" stroke-width="0.75"/>
<circle cx="266.90" cy="538.40" r="1.55" fill="none" stroke="#111" stroke-width="0.75"/>
<circle cx="266.90" cy="545.50" r="1.55" fill="none" stroke="#111" stroke-width="0.75"/>
<line x1="281.2" y1="522" x2="281.2" y2="535" stroke="#222" stroke-width="0.8"/>
<line x1="279.09999999999997" y1="522" x2="283.3" y2="522" stroke="#222" stroke-width="0.8"/>
<line x1="279.09999999999997" y1="535" x2="283.3" y2="535" stroke="#222" stroke-width="0.8"/>
<circle cx="281.00" cy="522.10" r="1.55" fill="none" stroke="#111" stroke-width="0.75"/>
<circle cx="278.00" cy="527.40" r="1.55" fill="none" stroke="#111" stroke-width="0.75"/>
<circle cx="285.00" cy="528.00" r="1.55" fill="none" stroke="#111" stroke-width="0.75"/>
<circle cx="281.00" cy="530.00" r="1.55" fill="none" stroke="#111" stroke-width="0.75"/>
<circle cx="279.00" cy="533.10" r="1.55" fill="none" stroke="#111" stroke-width="0.75"/>
<circle cx="283.00" cy="533.00" r="1.55" fill="none" stroke="#111" stroke-width="0.75"/>
<circle cx="281.00" cy="547.30" r="1.55" fill="none" stroke="#111" stroke-width="0.75"/>
<line x1="294.8" y1="508" x2="294.8" y2="518" stroke="#222" stroke-width="0.8"/>
<line x1="292.7" y1="508" x2="296.90000000000003" y2="508" stroke="#222" stroke-width="0.8"/>
<line x1="292.7" y1="518" x2="296.90000000000003" y2="518" stroke="#222" stroke-width="0.8"/>
<circle cx="294.50" cy="508.30" r="1.55" fill="none" stroke="#111" stroke-width="0.75"/>
<circle cx="294.50" cy="513.60" r="1.55" fill="none" stroke="#111" stroke-width="0.75"/>
<circle cx="294.50" cy="517.50" r="1.55" fill="none" stroke="#111" stroke-width="0.75"/>
<line x1="308.09999999999997" y1="510" x2="308.09999999999997" y2="524" stroke="#222" stroke-width="0.8"/>
<line x1="305.99999999999994" y1="510" x2="310.2" y2="510" stroke="#222" stroke-width="0.8"/>
<line x1="305.99999999999994" y1="524" x2="310.2" y2="524" stroke="#222" stroke-width="0.8"/>
<circle cx="307.90" cy="505.70" r="1.55" fill="none" stroke="#111" stroke-width="0.75"/>
<circle cx="303.90" cy="516.30" r="1.55" fill="none" stroke="#111" stroke-width="0.75"/>
<circle cx="311.90" cy="515.40" r="1.55" fill="none" stroke="#111" stroke-width="0.75"/>
<circle cx="311.90" cy="520.40" r="1.55" fill="none" stroke="#111" stroke-width="0.75"/>
<circle cx="303.90" cy="522.50" r="1.55" fill="none" stroke="#111" stroke-width="0.75"/>
<circle cx="311.90" cy="526.40" r="1.55" fill="none" stroke="#111" stroke-width="0.75"/>
<circle cx="303.90" cy="527.40" r="1.55" fill="none" stroke="#111" stroke-width="0.75"/>
<line x1="228.0" y1="567.0" x2="301.3" y2="567.0" stroke="#3c3c3c" stroke-width="1.0"/>
<text x="257.1" y="576.6" font-size="8.0" textLength="16.0" lengthAdjust="spacingAndGlyphs" fill="#2b2b2b">MEP</text>
<rect x="325.20" y="509.50" width="8.40" height="54.50" fill="#E48D7F"/>
<rect x="338.80" y="516.00" width="8.40" height="48.00" fill="#D2584C"/>
<rect x="356.90" y="517.80" width="8.40" height="46.20" fill="#AAD69A"/>
<rect x="370.80" y="519.10" width="8.40" height="44.90" fill="#7BC060"/>
<rect x="384.20" y="501.20" width="8.40" height="62.80" fill="#FAC88A"/>
<rect x="397.90" y="509.20" width="8.40" height="54.80" fill="#F4AA4B"/>
<line x1="329.4" y1="499" x2="329.4" y2="521" stroke="#222" stroke-width="0.8"/>
<line x1="327.29999999999995" y1="499" x2="331.5" y2="499" stroke="#222" stroke-width="0.8"/>
<line x1="327.29999999999995" y1="521" x2="331.5" y2="521" stroke="#222" stroke-width="0.8"/>
<circle cx="329.40" cy="501.80" r="1.55" fill="none" stroke="#111" stroke-width="0.75"/>
<circle cx="329.40" cy="504.90" r="1.55" fill="none" stroke="#111" stroke-width="0.75"/>
<circle cx="329.40" cy="510.50" r="1.55" fill="none" stroke="#111" stroke-width="0.75"/>
<circle cx="329.40" cy="514.20" r="1.55" fill="none" stroke="#111" stroke-width="0.75"/>
<circle cx="329.40" cy="521.50" r="1.55" fill="none" stroke="#111" stroke-width="0.75"/>
<line x1="343.0" y1="510" x2="343.0" y2="524" stroke="#222" stroke-width="0.8"/>
<line x1="340.9" y1="510" x2="345.1" y2="510" stroke="#222" stroke-width="0.8"/>
<line x1="340.9" y1="524" x2="345.1" y2="524" stroke="#222" stroke-width="0.8"/>
<circle cx="343.00" cy="508.60" r="1.55" fill="none" stroke="#111" stroke-width="0.75"/>
<circle cx="340.00" cy="512.90" r="1.55" fill="none" stroke="#111" stroke-width="0.75"/>
<circle cx="343.50" cy="514.20" r="1.55" fill="none" stroke="#111" stroke-width="0.75"/>
<circle cx="346.50" cy="513.00" r="1.55" fill="none" stroke="#111" stroke-width="0.75"/>
<circle cx="343.00" cy="518.80" r="1.55" fill="none" stroke="#111" stroke-width="0.75"/>
<circle cx="343.00" cy="526.50" r="1.55" fill="none" stroke="#111" stroke-width="0.75"/>
<circle cx="343.00" cy="543.10" r="1.55" fill="none" stroke="#111" stroke-width="0.75"/>
<line x1="361.09999999999997" y1="510" x2="361.09999999999997" y2="540" stroke="#222" stroke-width="0.8"/>
<line x1="358.99999999999994" y1="510" x2="363.2" y2="510" stroke="#222" stroke-width="0.8"/>
<line x1="358.99999999999994" y1="540" x2="363.2" y2="540" stroke="#222" stroke-width="0.8"/>
<circle cx="357.60" cy="511.80" r="1.55" fill="none" stroke="#111" stroke-width="0.75"/>
<circle cx="361.10" cy="509.50" r="1.55" fill="none" stroke="#111" stroke-width="0.75"/>
<circle cx="364.60" cy="514.20" r="1.55" fill="none" stroke="#111" stroke-width="0.75"/>
<circle cx="361.10" cy="521.50" r="1.55" fill="none" stroke="#111" stroke-width="0.75"/>
<circle cx="361.10" cy="540.00" r="1.55" fill="none" stroke="#111" stroke-width="0.75"/>
<circle cx="361.10" cy="547.90" r="1.55" fill="none" stroke="#111" stroke-width="0.75"/>
<line x1="375.0" y1="512" x2="375.0" y2="540" stroke="#222" stroke-width="0.8"/>
<line x1="372.9" y1="512" x2="377.1" y2="512" stroke="#222" stroke-width="0.8"/>
<line x1="372.9" y1="540" x2="377.1" y2="540" stroke="#222" stroke-width="0.8"/>
<circle cx="371.50" cy="513.60" r="1.55" fill="none" stroke="#111" stroke-width="0.75"/>
<circle cx="375.00" cy="512.30" r="1.55" fill="none" stroke="#111" stroke-width="0.75"/>
<circle cx="378.50" cy="513.60" r="1.55" fill="none" stroke="#111" stroke-width="0.75"/>
<circle cx="375.00" cy="523.90" r="1.55" fill="none" stroke="#111" stroke-width="0.75"/>
<circle cx="373.00" cy="545.50" r="1.55" fill="none" stroke="#111" stroke-width="0.75"/>
<circle cx="376.50" cy="546.50" r="1.55" fill="none" stroke="#111" stroke-width="0.75"/>
<circle cx="375.00" cy="549.80" r="1.55" fill="none" stroke="#111" stroke-width="0.75"/>
<line x1="388.4" y1="493" x2="388.4" y2="520" stroke="#222" stroke-width="0.8"/>
<line x1="386.29999999999995" y1="493" x2="390.5" y2="493" stroke="#222" stroke-width="0.8"/>
<line x1="386.29999999999995" y1="520" x2="390.5" y2="520" stroke="#222" stroke-width="0.8"/>
<circle cx="388.40" cy="493.80" r="1.55" fill="none" stroke="#111" stroke-width="0.75"/>
<circle cx="388.40" cy="501.80" r="1.55" fill="none" stroke="#111" stroke-width="0.75"/>
<circle cx="388.40" cy="515.10" r="1.55" fill="none" stroke="#111" stroke-width="0.75"/>
<circle cx="401.92" cy="504.93" r="1.55" fill="none" stroke="#111" stroke-width="0.75"/>
<circle cx="405.35" cy="505.17" r="1.55" fill="none" stroke="#111" stroke-width="0.75"/>
<circle cx="398.64" cy="506.19" r="1.55" fill="none" stroke="#111" stroke-width="0.75"/>
<circle cx="403.24" cy="506.72" r="1.55" fill="none" stroke="#111" stroke-width="0.75"/>
<circle cx="401.15" cy="507.39" r="1.55" fill="none" stroke="#111" stroke-width="0.75"/>
<circle cx="406.33" cy="508.55" r="1.55" fill="none" stroke="#111" stroke-width="0.75"/>
<circle cx="403.85" cy="509.18" r="1.55" fill="none" stroke="#111" stroke-width="0.75"/>
<circle cx="402.10" cy="516.60" r="1.55" fill="none" stroke="#111" stroke-width="0.75"/>
<line x1="337.5" y1="567.0" x2="410.2" y2="567.0" stroke="#3c3c3c" stroke-width="1.0"/>
<text x="362.6" y="576.6" font-size="8.0" textLength="22.2" lengthAdjust="spacingAndGlyphs" fill="#2b2b2b">CFU-E</text>
<rect x="0.5" y="0.5" width="519" height="582" fill="none" stroke="#555" stroke-width="1"/>
</svg>
</body></html>
